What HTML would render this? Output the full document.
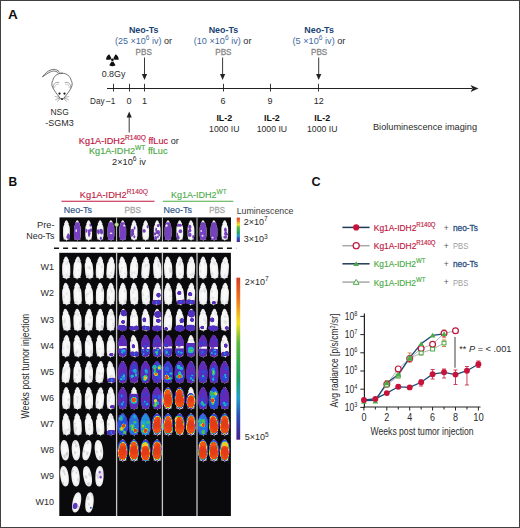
<!DOCTYPE html>
<html><head><meta charset="utf-8"><style>
html,body{margin:0;padding:0;background:#fff;overflow:hidden;width:520px;height:528px;}
svg{display:block;font-family:"Liberation Sans", sans-serif;}
</style></head><body>
<svg width="520" height="528" viewBox="0 0 520 528">
<rect width="520" height="528" fill="#fff"/>
<text x="7.9" y="18.6" font-size="13.5" fill="#111" font-weight="bold" text-anchor="start" >A</text>
<g fill="none" stroke="#3a3a3a" stroke-width="0.7" stroke-linecap="round" stroke-linejoin="round">
<path d="M60.6,73.6 C58.8,70.2 55.4,68.6 51.2,69.8 C47.6,70.9 45,73.6 42.4,76.9 C45.6,74.7 48.2,72.7 51.4,71.5 C54.6,70.4 57.6,71.3 59.3,74.2"/>
<path d="M62,73.2 C67,73.2 70.5,76.5 71.2,80.5 C72.4,82 72.6,85.5 71.2,87.5 C70,90.5 67.5,93.5 65.5,96 C64.5,97.5 63.5,99.5 62,99.8 C60.5,99.5 59.5,97.5 58.5,96 C56.5,93.5 54,90.5 52.8,87.5 C51.4,85.5 51.6,82 52.8,80.5 C53.5,76.5 57,73.2 62,73.2 Z" fill="#fff"/>
<path d="M53.2,88.2 C52.6,84.6 55.2,81.4 58.8,82.6" stroke="#777"/>
<path d="M54.6,87.6 C54.7,85.4 56.3,83.9 58.3,84.3" stroke="#aaa" stroke-width="0.6"/>
<path d="M70.8,88.2 C71.4,84.6 68.8,81.4 65.2,82.6" stroke="#777"/>
<path d="M69.4,87.6 C69.3,85.4 67.7,83.9 65.7,84.3" stroke="#aaa" stroke-width="0.6"/>
<path d="M59.6,97.4 L55.2,96.6 M59.8,98 L55.6,99.6 M60.2,98.6 L57.2,101.4 M64.4,97.4 L68.8,96.6 M64.2,98 L68.4,99.6 M63.8,98.6 L66.8,101.4" stroke="#555" stroke-width="0.45"/>
</g>
<circle cx="59.5" cy="93.6" r="1.1" fill="#111"/><circle cx="64.5" cy="93.6" r="1.1" fill="#111"/>
<path d="M60.6,98.2 L63.4,98.2 L62.9,99.6 L61.1,99.6 Z" fill="#222"/>
<text x="50.5" y="115.2" font-size="9" fill="#2a2a2a" font-weight="normal" text-anchor="start" textLength="18.3" lengthAdjust="spacingAndGlyphs" >NSG</text>
<text x="45.2" y="125.6" font-size="9" fill="#2a2a2a" font-weight="normal" text-anchor="start" textLength="28.5" lengthAdjust="spacingAndGlyphs" >-SGM3</text>
<circle cx="112.4" cy="59.8" r="1.4" fill="#111"/><path d="M110.50,59.80 L106.10,59.80 A6.3,6.3 0 0 1 109.25,54.34 L111.45,58.15 A1.9,1.9 0 0 0 110.50,59.80 Z" fill="#111"/><path d="M113.35,58.15 L115.55,54.34 A6.3,6.3 0 0 1 118.70,59.80 L114.30,59.80 A1.9,1.9 0 0 0 113.35,58.15 Z" fill="#111"/><path d="M113.35,61.45 L115.55,65.26 A6.3,6.3 0 0 1 109.25,65.26 L111.45,61.45 A1.9,1.9 0 0 0 113.35,61.45 Z" fill="#111"/>
<text x="101.7" y="76.5" font-size="9" fill="#2a2a2a" font-weight="normal" text-anchor="start" textLength="23.7" lengthAdjust="spacingAndGlyphs" >0.8Gy</text>
<line x1="107" y1="88.5" x2="472" y2="88.5" stroke="#222" stroke-width="1.2"/>
<path d="M478.5,88.5 L470.5,85 L472.5,88.5 L470.5,92 Z" fill="#222"/>
<line x1="113.5" y1="83.8" x2="113.5" y2="91.5" stroke="#222" stroke-width="0.9"/>
<line x1="129.5" y1="83.8" x2="129.5" y2="91.5" stroke="#222" stroke-width="0.9"/>
<line x1="144.5" y1="83.8" x2="144.5" y2="91.5" stroke="#222" stroke-width="0.9"/>
<line x1="223.5" y1="83.8" x2="223.5" y2="91.5" stroke="#222" stroke-width="0.9"/>
<line x1="270.5" y1="83.8" x2="270.5" y2="91.5" stroke="#222" stroke-width="0.9"/>
<line x1="318.5" y1="83.8" x2="318.5" y2="91.5" stroke="#222" stroke-width="0.9"/>
<text x="90.0" y="103.8" font-size="9" fill="#2a2a2a" font-weight="normal" text-anchor="start" textLength="25.2" lengthAdjust="spacingAndGlyphs" >Day –1</text>
<text x="129" y="103.8" font-size="9" fill="#2a2a2a" font-weight="normal" text-anchor="middle" >0</text>
<text x="144.6" y="103.8" font-size="9" fill="#2a2a2a" font-weight="normal" text-anchor="middle" >1</text>
<text x="223" y="103.8" font-size="9" fill="#2a2a2a" font-weight="normal" text-anchor="middle" >6</text>
<text x="270" y="103.8" font-size="9" fill="#2a2a2a" font-weight="normal" text-anchor="middle" >9</text>
<text x="318.8" y="103.8" font-size="9" fill="#2a2a2a" font-weight="normal" text-anchor="middle" >12</text>
<text x="224.3" y="120.5" font-size="8.8" fill="#111" font-weight="bold" text-anchor="middle" textLength="15.8" lengthAdjust="spacingAndGlyphs" >IL-2</text>
<text x="224.3" y="131.7" font-size="9.2" fill="#2a2a2a" font-weight="normal" text-anchor="middle" textLength="30.4" lengthAdjust="spacingAndGlyphs" >1000 IU</text>
<text x="271.9" y="120.5" font-size="8.8" fill="#111" font-weight="bold" text-anchor="middle" textLength="15.8" lengthAdjust="spacingAndGlyphs" >IL-2</text>
<text x="271.9" y="131.7" font-size="9.2" fill="#2a2a2a" font-weight="normal" text-anchor="middle" textLength="30.4" lengthAdjust="spacingAndGlyphs" >1000 IU</text>
<text x="322.2" y="120.5" font-size="8.8" fill="#111" font-weight="bold" text-anchor="middle" textLength="15.8" lengthAdjust="spacingAndGlyphs" >IL-2</text>
<text x="322.2" y="131.7" font-size="9.2" fill="#2a2a2a" font-weight="normal" text-anchor="middle" textLength="30.4" lengthAdjust="spacingAndGlyphs" >1000 IU</text>
<text x="373" y="129.5" font-size="9" fill="#2a2a2a" font-weight="normal" text-anchor="start" textLength="104" lengthAdjust="spacingAndGlyphs" >Bioluminescence imaging</text>
<text x="143.7" y="32.8" font-size="8.4" fill="#174273" font-weight="bold" text-anchor="middle" textLength="29.5" lengthAdjust="spacingAndGlyphs" >Neo-Ts</text>
<text x="115" y="43.8" font-size="9" fill="#3f6aa0" textLength="57" lengthAdjust="spacingAndGlyphs">(25 ×10<tspan dy="-3.6" font-size="6.6">6</tspan><tspan dy="3.6"> iv)</tspan><tspan fill="#2a2a2a"> or</tspan></text>
<text x="143.7" y="54.6" font-size="9" fill="#858585" font-weight="normal" text-anchor="middle" textLength="16.2" lengthAdjust="spacingAndGlyphs" stroke="#858585" stroke-width="0.3">PBS</text>
<line x1="144.5" y1="57.5" x2="144.5" y2="75" stroke="#222" stroke-width="0.9"/>
<path d="M141.9,74 L147.1,74 L144.5,80 Z" fill="#222"/>
<text x="223.4" y="32.8" font-size="8.4" fill="#174273" font-weight="bold" text-anchor="middle" textLength="29.5" lengthAdjust="spacingAndGlyphs" >Neo-Ts</text>
<text x="193.7" y="43.8" font-size="9" fill="#3f6aa0" textLength="57.8" lengthAdjust="spacingAndGlyphs">(10 ×10<tspan dy="-3.6" font-size="6.6">6</tspan><tspan dy="3.6"> iv)</tspan><tspan fill="#2a2a2a"> or</tspan></text>
<text x="223.4" y="54.6" font-size="9" fill="#858585" font-weight="normal" text-anchor="middle" textLength="16.2" lengthAdjust="spacingAndGlyphs" stroke="#858585" stroke-width="0.3">PBS</text>
<line x1="222.6" y1="57.5" x2="222.6" y2="75" stroke="#222" stroke-width="0.9"/>
<path d="M220.0,74 L225.2,74 L222.6,80 Z" fill="#222"/>
<text x="319.1" y="32.8" font-size="8.4" fill="#174273" font-weight="bold" text-anchor="middle" textLength="29.5" lengthAdjust="spacingAndGlyphs" >Neo-Ts</text>
<text x="292.5" y="43.8" font-size="9" fill="#3f6aa0" textLength="52.9" lengthAdjust="spacingAndGlyphs">(5 ×10<tspan dy="-3.6" font-size="6.6">6</tspan><tspan dy="3.6"> iv)</tspan><tspan fill="#2a2a2a"> or</tspan></text>
<text x="319.1" y="54.6" font-size="9" fill="#858585" font-weight="normal" text-anchor="middle" textLength="16.2" lengthAdjust="spacingAndGlyphs" stroke="#858585" stroke-width="0.3">PBS</text>
<line x1="318.7" y1="57.5" x2="318.7" y2="75" stroke="#222" stroke-width="0.9"/>
<path d="M316.09999999999997,74 L321.3,74 L318.7,80 Z" fill="#222"/>
<line x1="129.2" y1="116" x2="129.2" y2="132.5" stroke="#222" stroke-width="0.9"/>
<path d="M126.6,117.5 L131.8,117.5 L129.2,111.5 Z" fill="#222"/>
<text x="78.8" y="143.8" font-size="9" fill="#c0163e" stroke="#c0163e" stroke-width="0.15" textLength="100" lengthAdjust="spacingAndGlyphs">Kg1A-IDH2<tspan dy="-3.8" font-size="6.5">R140Q</tspan><tspan dy="3.8"> ffLuc</tspan><tspan fill="#2a2a2a" stroke="none"> or</tspan></text>
<text x="89" y="153.8" font-size="9" fill="#4aab46" stroke="#4aab46" stroke-width="0.15" textLength="78.5" lengthAdjust="spacingAndGlyphs">Kg1A-IDH2<tspan dy="-3.8" font-size="6.5">WT</tspan><tspan dy="3.8"> ffLuc</tspan></text>
<text x="112" y="165" font-size="9" fill="#2a2a2a" textLength="33.8" lengthAdjust="spacingAndGlyphs">2×10<tspan dy="-3.8" font-size="6.6">6</tspan><tspan dy="3.8"> iv</tspan></text>
<text x="8.5" y="185.7" font-size="12" fill="#111" font-weight="bold" text-anchor="start" >B</text>
<line x1="61.5" y1="201.3" x2="154.5" y2="201.3" stroke="#c0163e" stroke-width="1.1"/>
<line x1="162.8" y1="201.3" x2="233.3" y2="201.3" stroke="#4aab46" stroke-width="1.1"/>
<text x="79.8" y="197.6" font-size="9" fill="#c0163e" stroke="#c0163e" stroke-width="0.1" textLength="68.2" lengthAdjust="spacingAndGlyphs">Kg1A-IDH2<tspan dy="-3.8" font-size="6.5">R140Q</tspan></text>
<text x="171" y="197.6" font-size="9" fill="#4aab46" stroke="#4aab46" stroke-width="0.1" textLength="55.7" lengthAdjust="spacingAndGlyphs">Kg1A-IDH2<tspan dy="-3.8" font-size="6.5">WT</tspan></text>
<text x="63.8" y="212.5" font-size="9" fill="#2b5288" font-weight="normal" text-anchor="start" textLength="28.2" lengthAdjust="spacingAndGlyphs" stroke="#2b5288" stroke-width="0.15">Neo-Ts</text>
<text x="124.4" y="212.5" font-size="9" fill="#a6a6a6" font-weight="normal" text-anchor="start" textLength="16.5" lengthAdjust="spacingAndGlyphs" stroke="#a6a6a6" stroke-width="0.3">PBS</text>
<text x="163.5" y="212.5" font-size="9" fill="#2b5288" font-weight="normal" text-anchor="start" textLength="28.5" lengthAdjust="spacingAndGlyphs" stroke="#2b5288" stroke-width="0.15">Neo-Ts</text>
<text x="209.2" y="212.5" font-size="9" fill="#a6a6a6" font-weight="normal" text-anchor="start" textLength="15.7" lengthAdjust="spacingAndGlyphs" stroke="#a6a6a6" stroke-width="0.3">PBS</text>
<text x="54.5" y="228.3" font-size="9" fill="#2a2a2a" font-weight="normal" text-anchor="end" textLength="17.5" lengthAdjust="spacingAndGlyphs" >Pre-</text>
<text x="54.5" y="238.8" font-size="9" fill="#2a2a2a" font-weight="normal" text-anchor="end" textLength="28.2" lengthAdjust="spacingAndGlyphs" >Neo-Ts</text>
<text x="236.7" y="213.7" font-size="8.6" fill="#3a3a3a" font-weight="normal" text-anchor="start" textLength="56.8" lengthAdjust="spacingAndGlyphs" >Luminescence</text>
<text x="243.8" y="224.7" font-size="9" fill="#2a2a2a">2×10<tspan dy="-3.8" font-size="6.6">7</tspan></text>
<text x="243.8" y="242.4" font-size="9" fill="#2a2a2a">3×10<tspan dy="-3.8" font-size="6.6">3</tspan></text>
<text x="244.7" y="284.9" font-size="9" fill="#2a2a2a">2×10<tspan dy="-3.8" font-size="6.6">7</tspan></text>
<text x="244.7" y="440.3" font-size="9" fill="#2a2a2a">5×10<tspan dy="-3.8" font-size="6.6">5</tspan></text>
<line x1="54" y1="248.3" x2="236.2" y2="248.3" stroke="#111" stroke-width="1.5" stroke-dasharray="5,4.1"/>
<defs><linearGradient id="cbg" x1="0" y1="0" x2="0" y2="1"><stop offset="0" stop-color="#d63a22"/><stop offset="0.14" stop-color="#ee7a20"/><stop offset="0.28" stop-color="#f4e020"/><stop offset="0.4" stop-color="#5cb840"/><stop offset="0.62" stop-color="#1ea060"/><stop offset="0.74" stop-color="#22a0c8"/><stop offset="0.85" stop-color="#2a50b8"/><stop offset="1" stop-color="#48208a"/></linearGradient></defs>
<rect x="236.7" y="217.6" width="3.2" height="24.4" fill="url(#cbg)"/>
<rect x="236.4" y="277.7" width="3.8" height="162" fill="url(#cbg)"/>
<text x="54" y="270.3" font-size="9" fill="#2a2a2a" font-weight="normal" text-anchor="end" >W1</text>
<text x="54" y="296.40000000000003" font-size="9" fill="#2a2a2a" font-weight="normal" text-anchor="end" >W2</text>
<text x="54" y="322.5" font-size="9" fill="#2a2a2a" font-weight="normal" text-anchor="end" >W3</text>
<text x="54" y="348.6" font-size="9" fill="#2a2a2a" font-weight="normal" text-anchor="end" >W4</text>
<text x="54" y="374.7" font-size="9" fill="#2a2a2a" font-weight="normal" text-anchor="end" >W5</text>
<text x="54" y="400.8" font-size="9" fill="#2a2a2a" font-weight="normal" text-anchor="end" >W6</text>
<text x="54" y="426.90000000000003" font-size="9" fill="#2a2a2a" font-weight="normal" text-anchor="end" >W7</text>
<text x="54" y="453.00000000000006" font-size="9" fill="#2a2a2a" font-weight="normal" text-anchor="end" >W8</text>
<text x="54" y="479.1" font-size="9" fill="#2a2a2a" font-weight="normal" text-anchor="end" >W9</text>
<text x="54" y="505.2" font-size="9" fill="#2a2a2a" font-weight="normal" text-anchor="end" >W10</text>
<text transform="translate(29.4,366.2) rotate(-90)" font-size="10.5" fill="#2a2a2a" text-anchor="middle" textLength="104.7" lengthAdjust="spacingAndGlyphs">Weeks post tumor injection</text>
<rect x="59.5" y="217.4" width="171.5" height="24.2" fill="#0a0a0c"/>
<rect x="59.3" y="252.8" width="171.6" height="263.2" fill="#0a0a0c"/>
<defs>
<radialGradient id="mg" cx="0.5" cy="0.5" r="0.6"><stop offset="0" stop-color="#fdfdfd"/><stop offset="0.65" stop-color="#f3f3f3"/><stop offset="0.9" stop-color="#dedede"/><stop offset="1" stop-color="#b0b0b0"/></radialGradient>
<clipPath id="mc"><path d="M3.9,0.3 C4.9,0.4 5.6,1.4 5.9,2.8 L6.7,3.8 L6.5,5.4 C7.4,6.4 7.9,8 7.95,10 L8,16.5 C8,18.5 7.6,19.8 7.2,20.6 L8,21.5 L6.4,21.6 C5.8,22 5.1,22.1 4.5,22.1 L4.2,23.6 L3.5,22.1 C2.9,22.1 2.2,22 1.6,21.6 L0,21.5 L0.8,20.6 C0.4,19.8 0,18.5 0,16.5 L0.05,10 C0.1,8 0.5,6.4 1.4,5.4 L1.2,3.8 L2,2.8 C2.2,1.4 2.9,0.4 3.9,0.3 Z"/></clipPath>
<clipPath id="hc"><path d="M4.5,0 C5.8,1 7.4,3 8.2,5.5 C8.9,8 9,11 9,13.5 C9,17.5 8.5,20 6.8,21.6 C5.8,22.4 3.2,22.4 2.2,21.6 C0.5,20 0,17.5 0,13.5 C0,11 0.1,8 0.8,5.5 C1.6,3 3.2,1 4.5,0 Z"/></clipPath>
<clipPath id="hc2"><path d="M4.5,0.6 C7.4,0.6 9,5 9,11 C9,17.5 7.6,21.6 4.5,21.6 C1.4,21.6 0,17.5 0,11 C0,5 1.6,0.6 4.5,0.6 Z"/></clipPath>
<path id="mb" d="M3.9,0.3 C4.9,0.4 5.6,1.4 5.9,2.8 L6.7,3.8 L6.5,5.4 C7.4,6.4 7.9,8 7.95,10 L8,16.5 C8,18.5 7.6,19.8 7.2,20.6 L8,21.5 L6.4,21.6 C5.8,22 5.1,22.1 4.5,22.1 L4.2,23.6 L3.5,22.1 C2.9,22.1 2.2,22 1.6,21.6 L0,21.5 L0.8,20.6 C0.4,19.8 0,18.5 0,16.5 L0.05,10 C0.1,8 0.5,6.4 1.4,5.4 L1.2,3.8 L2,2.8 C2.2,1.4 2.9,0.4 3.9,0.3 Z"/>
<filter id="heat" color-interpolation-filters="sRGB" filterUnits="userSpaceOnUse" x="55" y="210" width="180" height="310">
  <feGaussianBlur in="SourceAlpha" stdDeviation="0.75" result="b"/>
  <feColorMatrix in="b" type="matrix" values="0 0 0 1 0  0 0 0 1 0  0 0 0 1 0  0 0 0 1 0" result="g"/>
  <feComponentTransfer in="g">
    <feFuncR type="table" tableValues="0.44 0.44 0.41 0.34 0.24 0.17 0.16 0.13 0.13 0.16 0.19 0.38 0.63 0.91 0.96 0.96 0.96 0.94 0.93 0.91 0.88"/>
    <feFuncG type="table" tableValues="0.20 0.20 0.17 0.18 0.22 0.30 0.47 0.63 0.72 0.72 0.72 0.75 0.82 0.88 0.75 0.63 0.48 0.35 0.29 0.25 0.23"/>
    <feFuncB type="table" tableValues="0.70 0.70 0.68 0.74 0.80 0.85 0.86 0.85 0.75 0.56 0.38 0.25 0.19 0.19 0.13 0.13 0.11 0.09 0.09 0.09 0.09"/>
    <feFuncA type="table" tableValues="0 0.35 1 1 1 1 1 1 1 1 1 1 1 1 1 1 1 1 1 1 1"/>
  </feComponentTransfer>
</filter>
<filter id="soft" x="-5%" y="-5%" width="110%" height="110%"><feGaussianBlur stdDeviation="0.35"/></filter>
</defs>
<g filter="url(#soft)">
<g transform="translate(62.09,256.30) scale(1.03,1.0) rotate(-0.5,3.8,11.5)"><use href="#mb" fill="url(#mg)"/><g clip-path="url(#mc)"><ellipse cx="4.4" cy="18.8" rx="1.2" ry="1.6" fill="#c0c0c0" opacity="0.3"/><ellipse cx="4.5" cy="7.0" rx="1.2" ry="1.8" fill="#c0c0c0" opacity="0.3"/><ellipse cx="5.8" cy="5.5" rx="1.0" ry="1.1" fill="#c0c0c0" opacity="0.3"/></g></g>
<g transform="translate(73.39,256.30) scale(1.03,1.0) rotate(3.1,3.8,11.5)"><use href="#mb" fill="url(#mg)"/><g clip-path="url(#mc)"><ellipse cx="5.2" cy="4.7" rx="1.6" ry="2.2" fill="#c0c0c0" opacity="0.3"/><ellipse cx="4.9" cy="13.8" rx="0.9" ry="1.0" fill="#c0c0c0" opacity="0.3"/><ellipse cx="4.2" cy="5.0" rx="1.0" ry="1.3" fill="#c0c0c0" opacity="0.3"/></g></g>
<g transform="translate(84.79,256.30) scale(1.03,1.0) rotate(-4.7,3.8,11.5)"><use href="#mb" fill="url(#mg)"/><g clip-path="url(#mc)"><ellipse cx="3.8" cy="11.0" rx="1.5" ry="1.6" fill="#c0c0c0" opacity="0.3"/><ellipse cx="4.8" cy="12.0" rx="1.3" ry="1.5" fill="#c0c0c0" opacity="0.3"/><ellipse cx="2.7" cy="20.0" rx="1.6" ry="2.0" fill="#c0c0c0" opacity="0.3"/></g></g>
<g transform="translate(95.89,256.30) scale(1.03,1.0) rotate(2.1,3.8,11.5)"><use href="#mb" fill="url(#mg)"/><g clip-path="url(#mc)"><ellipse cx="2.9" cy="7.7" rx="1.0" ry="1.1" fill="#c0c0c0" opacity="0.3"/><ellipse cx="5.6" cy="10.4" rx="1.5" ry="1.5" fill="#c0c0c0" opacity="0.3"/><ellipse cx="6.7" cy="17.6" rx="0.8" ry="1.3" fill="#c0c0c0" opacity="0.3"/></g></g>
<g transform="translate(106.69,256.30) scale(1.03,1.0) rotate(4.1,3.8,11.5)"><use href="#mb" fill="url(#mg)"/><g clip-path="url(#mc)"><ellipse cx="3.8" cy="19.7" rx="1.1" ry="1.1" fill="#c0c0c0" opacity="0.3"/><ellipse cx="4.8" cy="16.5" rx="1.0" ry="1.1" fill="#c0c0c0" opacity="0.3"/><ellipse cx="3.0" cy="19.4" rx="1.4" ry="1.1" fill="#c0c0c0" opacity="0.3"/></g></g>
<g transform="translate(62.09,282.40) scale(1.03,1.0) rotate(-2.5,3.8,11.5)"><use href="#mb" fill="url(#mg)"/><g clip-path="url(#mc)"><ellipse cx="1.6" cy="5.0" rx="1.4" ry="1.2" fill="#c0c0c0" opacity="0.3"/><ellipse cx="4.4" cy="11.2" rx="1.0" ry="1.9" fill="#c0c0c0" opacity="0.3"/><ellipse cx="1.8" cy="14.3" rx="0.9" ry="1.5" fill="#c0c0c0" opacity="0.3"/></g></g>
<g transform="translate(73.39,282.40) scale(1.03,1.0) rotate(-2.9,3.8,11.5)"><use href="#mb" fill="url(#mg)"/><g clip-path="url(#mc)"><ellipse cx="2.6" cy="19.5" rx="1.4" ry="1.4" fill="#c0c0c0" opacity="0.3"/><ellipse cx="6.3" cy="7.4" rx="1.1" ry="2.0" fill="#c0c0c0" opacity="0.3"/><ellipse cx="4.9" cy="5.6" rx="1.6" ry="1.3" fill="#c0c0c0" opacity="0.3"/></g></g>
<g transform="translate(84.79,282.40) scale(1.03,1.0) rotate(-2.4,3.8,11.5)"><use href="#mb" fill="url(#mg)"/><g clip-path="url(#mc)"><ellipse cx="5.6" cy="9.3" rx="1.0" ry="1.1" fill="#c0c0c0" opacity="0.3"/><ellipse cx="1.5" cy="13.3" rx="1.0" ry="1.7" fill="#c0c0c0" opacity="0.3"/><ellipse cx="3.2" cy="11.3" rx="1.6" ry="1.6" fill="#c0c0c0" opacity="0.3"/></g></g>
<g transform="translate(95.89,282.40) scale(1.03,1.0) rotate(0.7,3.8,11.5)"><use href="#mb" fill="url(#mg)"/><g clip-path="url(#mc)"><ellipse cx="6.2" cy="6.9" rx="0.9" ry="2.1" fill="#c0c0c0" opacity="0.3"/><ellipse cx="5.9" cy="8.0" rx="1.0" ry="1.9" fill="#c0c0c0" opacity="0.3"/><ellipse cx="6.6" cy="7.1" rx="1.6" ry="2.1" fill="#c0c0c0" opacity="0.3"/></g></g>
<g transform="translate(106.69,282.40) scale(1.03,1.0) rotate(1.0,3.8,11.5)"><use href="#mb" fill="url(#mg)"/><g clip-path="url(#mc)"><ellipse cx="3.5" cy="5.7" rx="0.8" ry="2.2" fill="#c0c0c0" opacity="0.3"/><ellipse cx="2.4" cy="15.3" rx="1.0" ry="2.0" fill="#c0c0c0" opacity="0.3"/><ellipse cx="4.6" cy="8.7" rx="0.9" ry="1.9" fill="#c0c0c0" opacity="0.3"/></g></g>
<g transform="translate(62.09,308.50) scale(1.03,1.0) rotate(-4.3,3.8,11.5)"><use href="#mb" fill="url(#mg)"/><g clip-path="url(#mc)"><ellipse cx="2.4" cy="12.9" rx="1.5" ry="1.7" fill="#c0c0c0" opacity="0.3"/><ellipse cx="2.7" cy="18.7" rx="1.0" ry="1.0" fill="#c0c0c0" opacity="0.3"/><ellipse cx="2.6" cy="11.1" rx="0.8" ry="1.2" fill="#c0c0c0" opacity="0.3"/></g></g>
<g transform="translate(73.39,308.50) scale(1.03,1.0) rotate(-1.3,3.8,11.5)"><use href="#mb" fill="url(#mg)"/><g clip-path="url(#mc)"><ellipse cx="4.4" cy="6.1" rx="1.1" ry="2.1" fill="#c0c0c0" opacity="0.3"/><ellipse cx="6.9" cy="14.5" rx="1.4" ry="1.7" fill="#c0c0c0" opacity="0.3"/><ellipse cx="1.8" cy="4.6" rx="0.8" ry="2.1" fill="#c0c0c0" opacity="0.3"/></g></g>
<g transform="translate(84.79,308.50) scale(1.03,1.0) rotate(2.0,3.8,11.5)"><use href="#mb" fill="url(#mg)"/><g clip-path="url(#mc)"><ellipse cx="6.8" cy="4.3" rx="1.3" ry="1.6" fill="#c0c0c0" opacity="0.3"/><ellipse cx="5.4" cy="9.1" rx="1.6" ry="1.1" fill="#c0c0c0" opacity="0.3"/><ellipse cx="4.3" cy="15.8" rx="1.5" ry="1.9" fill="#c0c0c0" opacity="0.3"/></g></g>
<g transform="translate(95.89,308.50) scale(1.03,1.0) rotate(2.0,3.8,11.5)"><use href="#mb" fill="url(#mg)"/><g clip-path="url(#mc)"><ellipse cx="5.8" cy="18.6" rx="1.1" ry="1.8" fill="#c0c0c0" opacity="0.3"/><ellipse cx="6.4" cy="17.9" rx="1.1" ry="1.9" fill="#c0c0c0" opacity="0.3"/><ellipse cx="6.2" cy="13.2" rx="1.3" ry="1.5" fill="#c0c0c0" opacity="0.3"/></g></g>
<g transform="translate(106.69,308.50) scale(1.03,1.0) rotate(0.8,3.8,11.5)"><use href="#mb" fill="url(#mg)"/><g clip-path="url(#mc)"><ellipse cx="4.7" cy="5.3" rx="1.3" ry="2.2" fill="#c0c0c0" opacity="0.3"/><ellipse cx="6.3" cy="15.7" rx="1.1" ry="1.9" fill="#c0c0c0" opacity="0.3"/><ellipse cx="4.5" cy="11.0" rx="1.5" ry="1.1" fill="#c0c0c0" opacity="0.3"/></g></g>
<g transform="translate(62.09,334.60) scale(1.03,1.0) rotate(2.5,3.8,11.5)"><use href="#mb" fill="url(#mg)"/><g clip-path="url(#mc)"><ellipse cx="1.2" cy="13.6" rx="1.2" ry="1.3" fill="#c0c0c0" opacity="0.3"/><ellipse cx="5.2" cy="12.0" rx="1.3" ry="2.1" fill="#c0c0c0" opacity="0.3"/><ellipse cx="2.5" cy="4.2" rx="1.0" ry="1.8" fill="#c0c0c0" opacity="0.3"/></g></g>
<g transform="translate(73.39,334.60) scale(1.03,1.0) rotate(-3.0,3.8,11.5)"><use href="#mb" fill="url(#mg)"/><g clip-path="url(#mc)"><ellipse cx="2.0" cy="18.5" rx="1.3" ry="1.5" fill="#c0c0c0" opacity="0.3"/><ellipse cx="6.4" cy="9.2" rx="1.3" ry="1.2" fill="#c0c0c0" opacity="0.3"/><ellipse cx="3.6" cy="16.9" rx="1.5" ry="2.1" fill="#c0c0c0" opacity="0.3"/></g></g>
<g transform="translate(84.79,334.60) scale(1.03,1.0) rotate(-1.2,3.8,11.5)"><use href="#mb" fill="url(#mg)"/><g clip-path="url(#mc)"><ellipse cx="4.5" cy="9.1" rx="0.9" ry="1.6" fill="#c0c0c0" opacity="0.3"/><ellipse cx="6.0" cy="17.6" rx="1.4" ry="2.1" fill="#c0c0c0" opacity="0.3"/><ellipse cx="2.7" cy="6.7" rx="1.2" ry="1.3" fill="#c0c0c0" opacity="0.3"/></g></g>
<g transform="translate(95.89,334.60) scale(1.03,1.0) rotate(-2.9,3.8,11.5)"><use href="#mb" fill="url(#mg)"/><g clip-path="url(#mc)"><ellipse cx="3.5" cy="14.0" rx="1.2" ry="1.4" fill="#c0c0c0" opacity="0.3"/><ellipse cx="6.0" cy="19.7" rx="1.2" ry="1.1" fill="#c0c0c0" opacity="0.3"/><ellipse cx="1.2" cy="18.0" rx="0.8" ry="1.9" fill="#c0c0c0" opacity="0.3"/></g></g>
<g transform="translate(106.69,334.60) scale(1.03,1.0) rotate(0.7,3.8,11.5)"><use href="#mb" fill="url(#mg)"/><g clip-path="url(#mc)"><ellipse cx="2.9" cy="16.7" rx="0.8" ry="1.2" fill="#c0c0c0" opacity="0.3"/><ellipse cx="3.7" cy="4.4" rx="1.5" ry="1.3" fill="#c0c0c0" opacity="0.3"/><ellipse cx="1.8" cy="4.8" rx="1.3" ry="1.5" fill="#c0c0c0" opacity="0.3"/></g></g>
<g transform="translate(62.09,360.70) scale(1.03,1.0) rotate(4.6,3.8,11.5)"><use href="#mb" fill="url(#mg)"/><g clip-path="url(#mc)"><ellipse cx="5.1" cy="7.2" rx="1.2" ry="1.2" fill="#c0c0c0" opacity="0.3"/><ellipse cx="1.1" cy="11.6" rx="1.4" ry="1.2" fill="#c0c0c0" opacity="0.3"/><ellipse cx="2.6" cy="9.5" rx="1.4" ry="1.6" fill="#c0c0c0" opacity="0.3"/></g></g>
<g transform="translate(73.39,360.70) scale(1.03,1.0) rotate(1.1,3.8,11.5)"><use href="#mb" fill="url(#mg)"/><g clip-path="url(#mc)"><ellipse cx="5.5" cy="10.3" rx="1.4" ry="2.1" fill="#c0c0c0" opacity="0.3"/><ellipse cx="1.5" cy="18.9" rx="1.4" ry="1.2" fill="#c0c0c0" opacity="0.3"/><ellipse cx="3.7" cy="14.0" rx="1.5" ry="1.5" fill="#c0c0c0" opacity="0.3"/></g></g>
<g transform="translate(84.79,360.70) scale(1.03,1.0) rotate(0.7,3.8,11.5)"><use href="#mb" fill="url(#mg)"/><g clip-path="url(#mc)"><ellipse cx="6.3" cy="16.7" rx="1.6" ry="1.6" fill="#c0c0c0" opacity="0.3"/><ellipse cx="4.9" cy="7.3" rx="1.4" ry="2.0" fill="#c0c0c0" opacity="0.3"/><ellipse cx="4.8" cy="15.5" rx="1.0" ry="2.1" fill="#c0c0c0" opacity="0.3"/></g></g>
<g transform="translate(95.89,360.70) scale(1.03,1.0) rotate(4.8,3.8,11.5)"><use href="#mb" fill="url(#mg)"/><g clip-path="url(#mc)"><ellipse cx="6.9" cy="12.6" rx="1.4" ry="1.4" fill="#c0c0c0" opacity="0.3"/><ellipse cx="6.5" cy="17.7" rx="1.1" ry="1.1" fill="#c0c0c0" opacity="0.3"/><ellipse cx="3.6" cy="12.8" rx="1.4" ry="1.6" fill="#c0c0c0" opacity="0.3"/></g></g>
<g transform="translate(106.69,360.70) scale(1.03,1.0) rotate(-4.7,3.8,11.5)"><use href="#mb" fill="url(#mg)"/><g clip-path="url(#mc)"><ellipse cx="5.9" cy="5.0" rx="1.4" ry="1.2" fill="#c0c0c0" opacity="0.3"/><ellipse cx="3.0" cy="16.6" rx="0.9" ry="1.2" fill="#c0c0c0" opacity="0.3"/><ellipse cx="4.1" cy="15.6" rx="1.5" ry="1.8" fill="#c0c0c0" opacity="0.3"/></g></g>
<g transform="translate(62.09,386.80) scale(1.03,1.0) rotate(0.2,3.8,11.5)"><use href="#mb" fill="url(#mg)"/><g clip-path="url(#mc)"><ellipse cx="6.1" cy="13.0" rx="1.0" ry="1.5" fill="#c0c0c0" opacity="0.3"/><ellipse cx="6.1" cy="18.4" rx="1.0" ry="2.0" fill="#c0c0c0" opacity="0.3"/><ellipse cx="6.8" cy="12.4" rx="1.3" ry="1.2" fill="#c0c0c0" opacity="0.3"/></g></g>
<g transform="translate(73.39,386.80) scale(1.03,1.0) rotate(0.4,3.8,11.5)"><use href="#mb" fill="url(#mg)"/><g clip-path="url(#mc)"><ellipse cx="4.0" cy="13.7" rx="0.8" ry="2.2" fill="#c0c0c0" opacity="0.3"/><ellipse cx="4.1" cy="10.4" rx="1.4" ry="1.7" fill="#c0c0c0" opacity="0.3"/><ellipse cx="3.9" cy="15.1" rx="0.9" ry="1.6" fill="#c0c0c0" opacity="0.3"/></g></g>
<g transform="translate(84.79,386.80) scale(1.03,1.0) rotate(-0.9,3.8,11.5)"><use href="#mb" fill="url(#mg)"/><g clip-path="url(#mc)"><ellipse cx="6.7" cy="18.8" rx="1.0" ry="1.6" fill="#c0c0c0" opacity="0.3"/><ellipse cx="1.8" cy="10.9" rx="1.5" ry="2.1" fill="#c0c0c0" opacity="0.3"/><ellipse cx="3.9" cy="9.1" rx="1.0" ry="1.7" fill="#c0c0c0" opacity="0.3"/></g></g>
<g transform="translate(95.89,386.80) scale(1.03,1.0) rotate(4.3,3.8,11.5)"><use href="#mb" fill="url(#mg)"/><g clip-path="url(#mc)"><ellipse cx="1.8" cy="16.5" rx="0.8" ry="1.2" fill="#c0c0c0" opacity="0.3"/><ellipse cx="2.4" cy="15.0" rx="1.1" ry="1.4" fill="#c0c0c0" opacity="0.3"/><ellipse cx="4.7" cy="5.7" rx="1.4" ry="1.1" fill="#c0c0c0" opacity="0.3"/></g></g>
<g transform="translate(106.69,386.80) scale(1.03,1.0) rotate(0.1,3.8,11.5)"><use href="#mb" fill="url(#mg)"/><g clip-path="url(#mc)"><ellipse cx="2.5" cy="7.2" rx="1.2" ry="1.5" fill="#c0c0c0" opacity="0.3"/><ellipse cx="3.3" cy="10.6" rx="1.2" ry="1.2" fill="#c0c0c0" opacity="0.3"/><ellipse cx="2.2" cy="14.1" rx="1.3" ry="1.6" fill="#c0c0c0" opacity="0.3"/></g></g>
<g transform="translate(62.09,412.90) scale(1.03,1.0) rotate(-2.7,3.8,11.5)"><use href="#mb" fill="url(#mg)"/><g clip-path="url(#mc)"><ellipse cx="5.4" cy="17.0" rx="1.5" ry="1.4" fill="#c0c0c0" opacity="0.3"/><ellipse cx="2.9" cy="18.8" rx="1.0" ry="2.2" fill="#c0c0c0" opacity="0.3"/><ellipse cx="6.3" cy="6.1" rx="1.0" ry="1.9" fill="#c0c0c0" opacity="0.3"/></g></g>
<g transform="translate(73.39,412.90) scale(1.03,1.0) rotate(-2.4,3.8,11.5)"><use href="#mb" fill="url(#mg)"/><g clip-path="url(#mc)"><ellipse cx="1.6" cy="17.3" rx="1.1" ry="1.9" fill="#c0c0c0" opacity="0.3"/><ellipse cx="1.8" cy="10.4" rx="1.3" ry="1.0" fill="#c0c0c0" opacity="0.3"/><ellipse cx="2.2" cy="14.9" rx="1.5" ry="2.2" fill="#c0c0c0" opacity="0.3"/></g></g>
<g transform="translate(84.79,412.90) scale(1.03,1.0) rotate(-3.8,3.8,11.5)"><use href="#mb" fill="url(#mg)"/><g clip-path="url(#mc)"><ellipse cx="4.0" cy="16.1" rx="1.2" ry="1.8" fill="#c0c0c0" opacity="0.3"/><ellipse cx="2.1" cy="5.1" rx="0.9" ry="1.0" fill="#c0c0c0" opacity="0.3"/><ellipse cx="4.3" cy="12.2" rx="1.3" ry="1.2" fill="#c0c0c0" opacity="0.3"/></g></g>
<g transform="translate(95.89,412.90) scale(1.03,1.0) rotate(-3.2,3.8,11.5)"><use href="#mb" fill="url(#mg)"/><g clip-path="url(#mc)"><ellipse cx="2.2" cy="17.4" rx="1.6" ry="2.1" fill="#c0c0c0" opacity="0.3"/><ellipse cx="1.6" cy="5.0" rx="1.6" ry="1.6" fill="#c0c0c0" opacity="0.3"/><ellipse cx="5.6" cy="9.2" rx="1.2" ry="1.6" fill="#c0c0c0" opacity="0.3"/></g></g>
<g transform="translate(106.69,412.90) scale(1.03,1.0) rotate(-0.7,3.8,11.5)"><use href="#mb" fill="url(#mg)"/><g clip-path="url(#mc)"><ellipse cx="4.6" cy="4.2" rx="1.4" ry="2.0" fill="#c0c0c0" opacity="0.3"/><ellipse cx="2.1" cy="11.3" rx="1.4" ry="1.5" fill="#c0c0c0" opacity="0.3"/><ellipse cx="2.2" cy="6.6" rx="1.2" ry="1.0" fill="#c0c0c0" opacity="0.3"/></g></g>
<g transform="translate(60.66,439.30) scale(0.92,0.98) rotate(-5.8,4.5,11)"><path d="M4.5,0.6 C7.4,0.6 9,5 9,11 C9,17.5 7.6,21.6 4.5,21.6 C1.4,21.6 0,17.5 0,11 C0,5 1.6,0.6 4.5,0.6 Z" fill="url(#mg)"/><g clip-path="url(#hc2)"><ellipse cx="7.0" cy="14.9" rx="1.4" ry="2.0" fill="#b0b0b0" opacity="0.4"/><ellipse cx="3.9" cy="17.3" rx="1.5" ry="1.8" fill="#b0b0b0" opacity="0.4"/><ellipse cx="6.1" cy="15.2" rx="1.1" ry="1.9" fill="#b0b0b0" opacity="0.4"/></g></g>
<g transform="translate(71.76,439.30) scale(0.92,0.98) rotate(-3.8,4.5,11)"><path d="M4.5,0.6 C7.4,0.6 9,5 9,11 C9,17.5 7.6,21.6 4.5,21.6 C1.4,21.6 0,17.5 0,11 C0,5 1.6,0.6 4.5,0.6 Z" fill="url(#mg)"/><g clip-path="url(#hc2)"><ellipse cx="4.3" cy="3.2" rx="1.1" ry="1.8" fill="#b0b0b0" opacity="0.4"/><ellipse cx="5.2" cy="6.7" rx="1.6" ry="1.8" fill="#b0b0b0" opacity="0.4"/><ellipse cx="3.5" cy="13.6" rx="1.3" ry="1.6" fill="#b0b0b0" opacity="0.4"/></g></g>
<g transform="translate(82.86,439.30) scale(0.92,0.98) rotate(12.0,4.5,11)"><path d="M4.5,0.6 C7.4,0.6 9,5 9,11 C9,17.5 7.6,21.6 4.5,21.6 C1.4,21.6 0,17.5 0,11 C0,5 1.6,0.6 4.5,0.6 Z" fill="url(#mg)"/><g clip-path="url(#hc2)"><ellipse cx="5.4" cy="14.2" rx="1.4" ry="2.2" fill="#b0b0b0" opacity="0.4"/><ellipse cx="1.6" cy="12.8" rx="1.4" ry="1.3" fill="#b0b0b0" opacity="0.4"/><ellipse cx="3.9" cy="3.8" rx="1.0" ry="1.5" fill="#b0b0b0" opacity="0.4"/></g></g>
<g transform="translate(94.76,439.30) scale(0.92,0.98) rotate(-6.0,4.5,11)"><path d="M4.5,0.6 C7.4,0.6 9,5 9,11 C9,17.5 7.6,21.6 4.5,21.6 C1.4,21.6 0,17.5 0,11 C0,5 1.6,0.6 4.5,0.6 Z" fill="url(#mg)"/><g clip-path="url(#hc2)"><ellipse cx="6.9" cy="11.8" rx="1.2" ry="2.2" fill="#b0b0b0" opacity="0.4"/><ellipse cx="4.9" cy="18.9" rx="1.3" ry="2.0" fill="#b0b0b0" opacity="0.4"/><ellipse cx="2.0" cy="12.6" rx="1.4" ry="1.1" fill="#b0b0b0" opacity="0.4"/></g></g>
<g transform="translate(60.36,465.40) scale(0.92,0.98) rotate(-8.2,4.5,11)"><path d="M4.5,0.6 C7.4,0.6 9,5 9,11 C9,17.5 7.6,21.6 4.5,21.6 C1.4,21.6 0,17.5 0,11 C0,5 1.6,0.6 4.5,0.6 Z" fill="url(#mg)"/><g clip-path="url(#hc2)"><ellipse cx="4.3" cy="5.7" rx="1.2" ry="1.7" fill="#b0b0b0" opacity="0.4"/><ellipse cx="1.9" cy="18.1" rx="1.1" ry="1.6" fill="#b0b0b0" opacity="0.4"/><ellipse cx="5.1" cy="8.8" rx="1.0" ry="1.8" fill="#b0b0b0" opacity="0.4"/></g></g>
<g transform="translate(71.36,465.40) scale(0.92,0.98) rotate(-5.2,4.5,11)"><path d="M4.5,0.6 C7.4,0.6 9,5 9,11 C9,17.5 7.6,21.6 4.5,21.6 C1.4,21.6 0,17.5 0,11 C0,5 1.6,0.6 4.5,0.6 Z" fill="url(#mg)"/><g clip-path="url(#hc2)"><ellipse cx="5.8" cy="7.7" rx="0.8" ry="1.3" fill="#b0b0b0" opacity="0.4"/><ellipse cx="1.8" cy="5.5" rx="1.4" ry="1.5" fill="#b0b0b0" opacity="0.4"/><ellipse cx="6.9" cy="15.0" rx="0.8" ry="2.2" fill="#b0b0b0" opacity="0.4"/></g></g>
<g transform="translate(83.36,465.40) scale(0.92,0.98) rotate(-10.2,4.5,11)"><path d="M4.5,0.6 C7.4,0.6 9,5 9,11 C9,17.5 7.6,21.6 4.5,21.6 C1.4,21.6 0,17.5 0,11 C0,5 1.6,0.6 4.5,0.6 Z" fill="url(#mg)"/><g clip-path="url(#hc2)"><ellipse cx="6.9" cy="9.9" rx="1.2" ry="2.2" fill="#b0b0b0" opacity="0.4"/><ellipse cx="3.0" cy="11.4" rx="1.5" ry="1.9" fill="#b0b0b0" opacity="0.4"/><ellipse cx="4.3" cy="18.7" rx="1.5" ry="1.7" fill="#b0b0b0" opacity="0.4"/></g></g>
<g transform="translate(95.36,465.40) scale(0.92,0.98) rotate(3.0,4.5,11)"><path d="M4.5,0.6 C7.4,0.6 9,5 9,11 C9,17.5 7.6,21.6 4.5,21.6 C1.4,21.6 0,17.5 0,11 C0,5 1.6,0.6 4.5,0.6 Z" fill="url(#mg)"/><g clip-path="url(#hc2)"><ellipse cx="4.2" cy="6.3" rx="0.8" ry="1.6" fill="#b0b0b0" opacity="0.4"/><ellipse cx="2.2" cy="10.1" rx="1.3" ry="1.5" fill="#b0b0b0" opacity="0.4"/><ellipse cx="3.1" cy="12.3" rx="1.1" ry="1.9" fill="#b0b0b0" opacity="0.4"/><ellipse cx="5.5" cy="8" rx="2.6" ry="3" fill="#e6dcf4"/><ellipse cx="5.8" cy="12" rx="1.4" ry="1.4" fill="#7a48c4"/><ellipse cx="4.5" cy="7" rx="1.2" ry="1.2" fill="#8a5ccc"/></g></g>
<g transform="translate(72.56,491.50) scale(0.92,0.98) rotate(11.9,4.5,11)"><path d="M4.5,0.6 C7.4,0.6 9,5 9,11 C9,17.5 7.6,21.6 4.5,21.6 C1.4,21.6 0,17.5 0,11 C0,5 1.6,0.6 4.5,0.6 Z" fill="url(#mg)"/><g clip-path="url(#hc2)"><ellipse cx="7.2" cy="14.7" rx="1.0" ry="1.1" fill="#b0b0b0" opacity="0.4"/><ellipse cx="6.9" cy="15.5" rx="1.3" ry="1.4" fill="#b0b0b0" opacity="0.4"/><ellipse cx="3.1" cy="14.0" rx="1.3" ry="1.7" fill="#b0b0b0" opacity="0.4"/><ellipse cx="3.6" cy="15" rx="2.6" ry="3.2" fill="#6a34b8"/><ellipse cx="3.4" cy="15.4" rx="1.3" ry="1.8" fill="#4a3cc8"/></g></g>
<g transform="translate(85.36,491.50) scale(0.92,0.98) rotate(6.1,4.5,11)"><path d="M4.5,0.6 C7.4,0.6 9,5 9,11 C9,17.5 7.6,21.6 4.5,21.6 C1.4,21.6 0,17.5 0,11 C0,5 1.6,0.6 4.5,0.6 Z" fill="url(#mg)"/><g clip-path="url(#hc2)"><ellipse cx="2.6" cy="7.0" rx="1.6" ry="2.1" fill="#b0b0b0" opacity="0.4"/><ellipse cx="6.8" cy="3.6" rx="0.8" ry="1.3" fill="#b0b0b0" opacity="0.4"/><ellipse cx="4.1" cy="13.0" rx="0.9" ry="1.6" fill="#b0b0b0" opacity="0.4"/><ellipse cx="6.5" cy="16.5" rx="1" ry="1" fill="#3a5cc8"/></g></g>
<g transform="translate(118.69,256.30) scale(1.03,1.0) rotate(-4.3,3.8,11.5)"><use href="#mb" fill="url(#mg)"/><g clip-path="url(#mc)"><ellipse cx="1.5" cy="14.8" rx="1.2" ry="1.8" fill="#c0c0c0" opacity="0.3"/><ellipse cx="3.2" cy="11.7" rx="1.0" ry="1.4" fill="#c0c0c0" opacity="0.3"/><ellipse cx="5.5" cy="17.4" rx="0.9" ry="1.1" fill="#c0c0c0" opacity="0.3"/></g></g>
<g transform="translate(129.99,256.30) scale(1.03,1.0) rotate(3.1,3.8,11.5)"><use href="#mb" fill="url(#mg)"/><g clip-path="url(#mc)"><ellipse cx="4.7" cy="16.3" rx="1.0" ry="1.5" fill="#c0c0c0" opacity="0.3"/><ellipse cx="2.5" cy="17.0" rx="1.1" ry="1.8" fill="#c0c0c0" opacity="0.3"/><ellipse cx="6.9" cy="9.2" rx="1.2" ry="1.9" fill="#c0c0c0" opacity="0.3"/></g></g>
<g transform="translate(141.59,256.30) scale(1.03,1.0) rotate(4.2,3.8,11.5)"><use href="#mb" fill="url(#mg)"/><g clip-path="url(#mc)"><ellipse cx="3.6" cy="9.9" rx="0.9" ry="2.1" fill="#c0c0c0" opacity="0.3"/><ellipse cx="1.5" cy="5.3" rx="1.3" ry="1.6" fill="#c0c0c0" opacity="0.3"/><ellipse cx="5.1" cy="8.8" rx="1.4" ry="1.1" fill="#c0c0c0" opacity="0.3"/></g></g>
<g transform="translate(153.09,256.30) scale(1.03,1.0) rotate(-2.9,3.8,11.5)"><use href="#mb" fill="url(#mg)"/><g clip-path="url(#mc)"><ellipse cx="5.0" cy="5.3" rx="1.0" ry="1.9" fill="#c0c0c0" opacity="0.3"/><ellipse cx="5.2" cy="8.5" rx="0.9" ry="1.4" fill="#c0c0c0" opacity="0.3"/><ellipse cx="5.4" cy="9.9" rx="0.9" ry="1.9" fill="#c0c0c0" opacity="0.3"/></g></g>
<g transform="translate(118.69,282.40) scale(1.03,1.0) rotate(0.7,3.8,11.5)"><use href="#mb" fill="url(#mg)"/><g clip-path="url(#mc)"><ellipse cx="6.5" cy="19.0" rx="1.5" ry="1.5" fill="#c0c0c0" opacity="0.3"/><ellipse cx="5.8" cy="8.9" rx="1.1" ry="1.5" fill="#c0c0c0" opacity="0.3"/><ellipse cx="6.6" cy="18.3" rx="1.0" ry="1.4" fill="#c0c0c0" opacity="0.3"/></g></g>
<g transform="translate(129.99,282.40) scale(1.03,1.0) rotate(-1.3,3.8,11.5)"><use href="#mb" fill="url(#mg)"/><g clip-path="url(#mc)"><ellipse cx="3.2" cy="10.3" rx="1.1" ry="1.2" fill="#c0c0c0" opacity="0.3"/><ellipse cx="4.4" cy="16.8" rx="1.2" ry="2.0" fill="#c0c0c0" opacity="0.3"/><ellipse cx="4.4" cy="6.8" rx="1.4" ry="2.1" fill="#c0c0c0" opacity="0.3"/></g></g>
<g transform="translate(141.59,282.40) scale(1.03,1.0) rotate(-2.2,3.8,11.5)"><use href="#mb" fill="url(#mg)"/><g clip-path="url(#mc)"><ellipse cx="1.1" cy="12.3" rx="1.2" ry="1.7" fill="#c0c0c0" opacity="0.3"/><ellipse cx="6.8" cy="14.4" rx="1.4" ry="1.1" fill="#c0c0c0" opacity="0.3"/><ellipse cx="4.3" cy="16.6" rx="0.9" ry="1.1" fill="#c0c0c0" opacity="0.3"/></g></g>
<g transform="translate(153.09,282.40) scale(1.03,1.0) rotate(2.4,3.8,11.5)"><use href="#mb" fill="url(#mg)"/><g clip-path="url(#mc)"><ellipse cx="6.4" cy="5.4" rx="1.3" ry="1.2" fill="#c0c0c0" opacity="0.3"/><ellipse cx="5.5" cy="14.4" rx="1.0" ry="1.3" fill="#c0c0c0" opacity="0.3"/><ellipse cx="5.6" cy="12.3" rx="1.4" ry="1.5" fill="#c0c0c0" opacity="0.3"/></g></g>
<g transform="translate(118.69,308.50) scale(1.03,1.0) rotate(3.3,3.8,11.5)"><use href="#mb" fill="url(#mg)"/><g clip-path="url(#mc)"><ellipse cx="6.3" cy="19.3" rx="1.3" ry="1.6" fill="#c0c0c0" opacity="0.3"/><ellipse cx="5.3" cy="16.8" rx="1.1" ry="1.5" fill="#c0c0c0" opacity="0.3"/><ellipse cx="1.9" cy="15.9" rx="1.6" ry="1.5" fill="#c0c0c0" opacity="0.3"/></g></g>
<g transform="translate(129.99,308.50) scale(1.03,1.0) rotate(-0.4,3.8,11.5)"><use href="#mb" fill="url(#mg)"/><g clip-path="url(#mc)"><ellipse cx="4.5" cy="18.5" rx="0.8" ry="1.1" fill="#c0c0c0" opacity="0.3"/><ellipse cx="2.1" cy="7.5" rx="1.0" ry="1.9" fill="#c0c0c0" opacity="0.3"/><ellipse cx="4.6" cy="7.6" rx="0.9" ry="1.3" fill="#c0c0c0" opacity="0.3"/></g></g>
<g transform="translate(141.59,308.50) scale(1.03,1.0) rotate(-1.6,3.8,11.5)"><use href="#mb" fill="url(#mg)"/><g clip-path="url(#mc)"><ellipse cx="4.3" cy="19.3" rx="1.2" ry="1.3" fill="#c0c0c0" opacity="0.3"/><ellipse cx="1.3" cy="19.2" rx="1.4" ry="1.5" fill="#c0c0c0" opacity="0.3"/><ellipse cx="4.2" cy="12.3" rx="1.0" ry="2.2" fill="#c0c0c0" opacity="0.3"/></g></g>
<g transform="translate(153.09,308.50) scale(1.03,1.0) rotate(0.2,3.8,11.5)"><use href="#mb" fill="url(#mg)"/><g clip-path="url(#mc)"><ellipse cx="4.8" cy="19.9" rx="1.0" ry="1.6" fill="#c0c0c0" opacity="0.3"/><ellipse cx="1.9" cy="16.3" rx="0.8" ry="2.0" fill="#c0c0c0" opacity="0.3"/><ellipse cx="6.1" cy="17.2" rx="0.9" ry="1.3" fill="#c0c0c0" opacity="0.3"/></g></g>
<g transform="translate(118.80,334.60) scale(1.0,1.0)"><use href="#mb" fill="url(#mg)"/><g clip-path="url(#mc)"><ellipse cx="6.0" cy="7.3" rx="1.2" ry="1.6" fill="#c0c0c0" opacity="0.3"/><ellipse cx="1.9" cy="17.3" rx="1.0" ry="1.4" fill="#c0c0c0" opacity="0.3"/><ellipse cx="1.5" cy="8.9" rx="1.2" ry="1.9" fill="#c0c0c0" opacity="0.3"/></g></g>
<g transform="translate(129.99,334.60) scale(1.03,1.0) rotate(-4.1,3.8,11.5)"><use href="#mb" fill="url(#mg)"/><g clip-path="url(#mc)"><ellipse cx="1.8" cy="5.5" rx="1.3" ry="1.8" fill="#c0c0c0" opacity="0.3"/><ellipse cx="2.1" cy="10.4" rx="1.5" ry="1.7" fill="#c0c0c0" opacity="0.3"/><ellipse cx="1.5" cy="7.6" rx="0.9" ry="1.1" fill="#c0c0c0" opacity="0.3"/></g></g>
<g transform="translate(141.70,334.60) scale(1.0,1.0)"><use href="#mb" fill="url(#mg)"/><g clip-path="url(#mc)"><ellipse cx="5.2" cy="19.7" rx="1.4" ry="1.8" fill="#c0c0c0" opacity="0.3"/><ellipse cx="4.7" cy="4.3" rx="1.1" ry="1.4" fill="#c0c0c0" opacity="0.3"/><ellipse cx="4.9" cy="5.7" rx="1.1" ry="1.6" fill="#c0c0c0" opacity="0.3"/></g></g>
<g transform="translate(153.20,334.60) scale(1.0,1.0)"><use href="#mb" fill="url(#mg)"/><g clip-path="url(#mc)"><ellipse cx="5.9" cy="8.6" rx="1.5" ry="1.3" fill="#c0c0c0" opacity="0.3"/><ellipse cx="4.4" cy="17.3" rx="0.9" ry="1.7" fill="#c0c0c0" opacity="0.3"/><ellipse cx="1.5" cy="4.5" rx="0.9" ry="2.2" fill="#c0c0c0" opacity="0.3"/></g></g>
<g transform="translate(118.80,360.70) scale(1.0,1.0)"><use href="#mb" fill="url(#mg)"/><g clip-path="url(#mc)"><ellipse cx="5.4" cy="13.6" rx="1.4" ry="1.4" fill="#c0c0c0" opacity="0.3"/><ellipse cx="4.6" cy="5.1" rx="0.9" ry="1.5" fill="#c0c0c0" opacity="0.3"/><ellipse cx="4.0" cy="10.3" rx="0.8" ry="1.8" fill="#c0c0c0" opacity="0.3"/></g></g>
<g transform="translate(130.10,360.70) scale(1.0,1.0)"><use href="#mb" fill="url(#mg)"/><g clip-path="url(#mc)"><ellipse cx="3.4" cy="9.7" rx="1.3" ry="1.1" fill="#c0c0c0" opacity="0.3"/><ellipse cx="1.2" cy="18.4" rx="1.0" ry="1.6" fill="#c0c0c0" opacity="0.3"/><ellipse cx="6.6" cy="19.6" rx="1.2" ry="1.2" fill="#c0c0c0" opacity="0.3"/></g></g>
<g transform="translate(141.70,360.70) scale(1.0,1.0)"><use href="#mb" fill="url(#mg)"/><g clip-path="url(#mc)"><ellipse cx="5.0" cy="8.4" rx="1.3" ry="1.1" fill="#c0c0c0" opacity="0.3"/><ellipse cx="6.9" cy="11.0" rx="1.2" ry="1.6" fill="#c0c0c0" opacity="0.3"/><ellipse cx="1.3" cy="13.6" rx="1.0" ry="1.3" fill="#c0c0c0" opacity="0.3"/></g></g>
<g transform="translate(153.20,360.70) scale(1.0,1.0)"><use href="#mb" fill="url(#mg)"/><g clip-path="url(#mc)"><ellipse cx="2.1" cy="6.4" rx="0.8" ry="1.6" fill="#c0c0c0" opacity="0.3"/><ellipse cx="3.6" cy="11.1" rx="1.0" ry="2.0" fill="#c0c0c0" opacity="0.3"/><ellipse cx="1.4" cy="18.5" rx="1.3" ry="1.7" fill="#c0c0c0" opacity="0.3"/></g></g>
<g transform="translate(118.80,386.80) scale(1.0,1.0)"><use href="#mb" fill="url(#mg)"/><g clip-path="url(#mc)"><ellipse cx="3.8" cy="18.9" rx="1.1" ry="1.4" fill="#c0c0c0" opacity="0.3"/><ellipse cx="6.9" cy="13.8" rx="0.8" ry="1.5" fill="#c0c0c0" opacity="0.3"/><ellipse cx="4.9" cy="4.9" rx="1.1" ry="1.8" fill="#c0c0c0" opacity="0.3"/></g></g>
<g transform="translate(130.10,386.80) scale(1.0,1.0)"><use href="#mb" fill="url(#mg)"/><g clip-path="url(#mc)"><ellipse cx="4.1" cy="13.1" rx="1.3" ry="1.3" fill="#c0c0c0" opacity="0.3"/><ellipse cx="1.6" cy="4.9" rx="1.4" ry="1.9" fill="#c0c0c0" opacity="0.3"/><ellipse cx="1.8" cy="7.9" rx="1.5" ry="1.1" fill="#c0c0c0" opacity="0.3"/></g></g>
<g transform="translate(141.70,386.80) scale(1.0,1.0)"><use href="#mb" fill="url(#mg)"/><g clip-path="url(#mc)"><ellipse cx="7.0" cy="17.4" rx="1.2" ry="2.0" fill="#c0c0c0" opacity="0.3"/><ellipse cx="3.3" cy="8.1" rx="1.5" ry="1.8" fill="#c0c0c0" opacity="0.3"/><ellipse cx="2.8" cy="13.7" rx="1.2" ry="1.2" fill="#c0c0c0" opacity="0.3"/></g></g>
<g transform="translate(153.20,386.80) scale(1.0,1.0)"><use href="#mb" fill="url(#mg)"/><g clip-path="url(#mc)"><ellipse cx="5.5" cy="11.7" rx="0.8" ry="1.9" fill="#c0c0c0" opacity="0.3"/><ellipse cx="5.5" cy="14.6" rx="0.9" ry="2.0" fill="#c0c0c0" opacity="0.3"/><ellipse cx="4.3" cy="9.7" rx="0.9" ry="1.9" fill="#c0c0c0" opacity="0.3"/></g></g>
<g transform="translate(118.80,412.90) scale(1.0,1.0)"><use href="#mb" fill="url(#mg)"/><g clip-path="url(#mc)"><ellipse cx="5.9" cy="18.2" rx="1.3" ry="1.5" fill="#c0c0c0" opacity="0.3"/><ellipse cx="3.0" cy="18.4" rx="0.8" ry="1.8" fill="#c0c0c0" opacity="0.3"/><ellipse cx="2.3" cy="5.2" rx="0.8" ry="1.7" fill="#c0c0c0" opacity="0.3"/></g></g>
<g transform="translate(130.10,412.90) scale(1.0,1.0)"><use href="#mb" fill="url(#mg)"/><g clip-path="url(#mc)"><ellipse cx="4.4" cy="9.9" rx="1.0" ry="1.9" fill="#c0c0c0" opacity="0.3"/><ellipse cx="4.2" cy="7.8" rx="1.0" ry="1.4" fill="#c0c0c0" opacity="0.3"/><ellipse cx="2.1" cy="12.2" rx="0.9" ry="1.1" fill="#c0c0c0" opacity="0.3"/></g></g>
<g transform="translate(141.70,412.90) scale(1.0,1.0)"><use href="#mb" fill="url(#mg)"/><g clip-path="url(#mc)"><ellipse cx="3.5" cy="14.1" rx="1.1" ry="2.1" fill="#c0c0c0" opacity="0.3"/><ellipse cx="6.9" cy="4.8" rx="1.4" ry="1.1" fill="#c0c0c0" opacity="0.3"/><ellipse cx="1.3" cy="8.6" rx="1.4" ry="2.2" fill="#c0c0c0" opacity="0.3"/></g></g>
<g transform="translate(153.20,412.90) scale(1.0,1.0)"><use href="#mb" fill="url(#mg)"/><g clip-path="url(#mc)"><ellipse cx="3.9" cy="10.6" rx="1.4" ry="1.5" fill="#c0c0c0" opacity="0.3"/><ellipse cx="1.3" cy="12.8" rx="1.3" ry="1.7" fill="#c0c0c0" opacity="0.3"/><ellipse cx="2.7" cy="19.0" rx="1.5" ry="2.2" fill="#c0c0c0" opacity="0.3"/></g></g>
<g transform="translate(118.80,439.00) scale(1.0,1.0)"><use href="#mb" fill="url(#mg)"/><g clip-path="url(#mc)"><ellipse cx="2.6" cy="7.9" rx="1.5" ry="1.6" fill="#c0c0c0" opacity="0.3"/><ellipse cx="2.8" cy="12.5" rx="1.3" ry="2.0" fill="#c0c0c0" opacity="0.3"/><ellipse cx="5.6" cy="19.0" rx="1.2" ry="2.0" fill="#c0c0c0" opacity="0.3"/></g></g>
<g transform="translate(130.10,439.00) scale(1.0,1.0)"><use href="#mb" fill="url(#mg)"/><g clip-path="url(#mc)"><ellipse cx="3.0" cy="15.9" rx="1.0" ry="1.9" fill="#c0c0c0" opacity="0.3"/><ellipse cx="4.3" cy="14.9" rx="0.9" ry="1.1" fill="#c0c0c0" opacity="0.3"/><ellipse cx="1.9" cy="9.6" rx="1.1" ry="1.0" fill="#c0c0c0" opacity="0.3"/></g></g>
<g transform="translate(141.70,439.00) scale(1.0,1.0)"><use href="#mb" fill="url(#mg)"/><g clip-path="url(#mc)"><ellipse cx="4.0" cy="16.5" rx="1.5" ry="2.0" fill="#c0c0c0" opacity="0.3"/><ellipse cx="1.4" cy="10.2" rx="1.5" ry="2.1" fill="#c0c0c0" opacity="0.3"/><ellipse cx="5.7" cy="12.4" rx="0.8" ry="1.9" fill="#c0c0c0" opacity="0.3"/></g></g>
<g transform="translate(153.20,439.00) scale(1.0,1.0)"><use href="#mb" fill="url(#mg)"/><g clip-path="url(#mc)"><ellipse cx="3.8" cy="17.4" rx="1.2" ry="1.5" fill="#c0c0c0" opacity="0.3"/><ellipse cx="4.2" cy="4.7" rx="1.5" ry="1.6" fill="#c0c0c0" opacity="0.3"/><ellipse cx="3.7" cy="8.5" rx="0.8" ry="1.1" fill="#c0c0c0" opacity="0.3"/></g></g>
<g transform="translate(163.99,256.30) scale(1.03,1.0) rotate(-2.7,3.8,11.5)"><use href="#mb" fill="url(#mg)"/><g clip-path="url(#mc)"><ellipse cx="6.0" cy="14.4" rx="1.6" ry="2.0" fill="#c0c0c0" opacity="0.3"/><ellipse cx="5.8" cy="12.2" rx="1.6" ry="1.1" fill="#c0c0c0" opacity="0.3"/><ellipse cx="6.2" cy="15.4" rx="1.0" ry="2.0" fill="#c0c0c0" opacity="0.3"/></g></g>
<g transform="translate(175.69,256.30) scale(1.03,1.0) rotate(-0.5,3.8,11.5)"><use href="#mb" fill="url(#mg)"/><g clip-path="url(#mc)"><ellipse cx="4.2" cy="17.8" rx="1.0" ry="1.3" fill="#c0c0c0" opacity="0.3"/><ellipse cx="4.9" cy="5.2" rx="1.2" ry="1.9" fill="#c0c0c0" opacity="0.3"/><ellipse cx="3.9" cy="7.9" rx="1.4" ry="2.0" fill="#c0c0c0" opacity="0.3"/></g></g>
<g transform="translate(186.89,256.30) scale(1.03,1.0) rotate(2.7,3.8,11.5)"><use href="#mb" fill="url(#mg)"/><g clip-path="url(#mc)"><ellipse cx="4.3" cy="18.5" rx="1.4" ry="1.2" fill="#c0c0c0" opacity="0.3"/><ellipse cx="3.2" cy="5.6" rx="0.8" ry="1.4" fill="#c0c0c0" opacity="0.3"/><ellipse cx="6.2" cy="17.3" rx="0.9" ry="1.2" fill="#c0c0c0" opacity="0.3"/></g></g>
<g transform="translate(163.99,282.40) scale(1.03,1.0) rotate(-1.1,3.8,11.5)"><use href="#mb" fill="url(#mg)"/><g clip-path="url(#mc)"><ellipse cx="6.1" cy="13.9" rx="1.5" ry="1.1" fill="#c0c0c0" opacity="0.3"/><ellipse cx="6.9" cy="7.3" rx="1.3" ry="2.1" fill="#c0c0c0" opacity="0.3"/><ellipse cx="5.4" cy="7.2" rx="1.3" ry="1.5" fill="#c0c0c0" opacity="0.3"/></g></g>
<g transform="translate(175.69,282.40) scale(1.03,1.0) rotate(-4.8,3.8,11.5)"><use href="#mb" fill="url(#mg)"/><g clip-path="url(#mc)"><ellipse cx="3.0" cy="9.0" rx="1.3" ry="1.3" fill="#c0c0c0" opacity="0.3"/><ellipse cx="4.6" cy="15.1" rx="0.9" ry="1.2" fill="#c0c0c0" opacity="0.3"/><ellipse cx="5.2" cy="11.5" rx="0.9" ry="1.1" fill="#c0c0c0" opacity="0.3"/></g></g>
<g transform="translate(186.89,282.40) scale(1.03,1.0) rotate(3.2,3.8,11.5)"><use href="#mb" fill="url(#mg)"/><g clip-path="url(#mc)"><ellipse cx="3.5" cy="11.3" rx="1.2" ry="2.1" fill="#c0c0c0" opacity="0.3"/><ellipse cx="3.1" cy="15.3" rx="1.0" ry="1.7" fill="#c0c0c0" opacity="0.3"/><ellipse cx="2.7" cy="18.0" rx="1.0" ry="2.0" fill="#c0c0c0" opacity="0.3"/></g></g>
<g transform="translate(163.99,308.50) scale(1.03,1.0) rotate(1.9,3.8,11.5)"><use href="#mb" fill="url(#mg)"/><g clip-path="url(#mc)"><ellipse cx="5.0" cy="7.9" rx="1.1" ry="1.2" fill="#c0c0c0" opacity="0.3"/><ellipse cx="6.4" cy="8.0" rx="1.1" ry="1.4" fill="#c0c0c0" opacity="0.3"/><ellipse cx="5.9" cy="17.6" rx="1.3" ry="1.7" fill="#c0c0c0" opacity="0.3"/></g></g>
<g transform="translate(175.69,308.50) scale(1.03,1.0) rotate(-1.4,3.8,11.5)"><use href="#mb" fill="url(#mg)"/><g clip-path="url(#mc)"><ellipse cx="3.2" cy="15.6" rx="1.3" ry="1.4" fill="#c0c0c0" opacity="0.3"/><ellipse cx="6.4" cy="19.2" rx="0.8" ry="1.8" fill="#c0c0c0" opacity="0.3"/><ellipse cx="3.8" cy="9.8" rx="1.2" ry="1.4" fill="#c0c0c0" opacity="0.3"/></g></g>
<g transform="translate(186.89,308.50) scale(1.03,1.0) rotate(2.0,3.8,11.5)"><use href="#mb" fill="url(#mg)"/><g clip-path="url(#mc)"><ellipse cx="7.0" cy="5.1" rx="1.2" ry="1.5" fill="#c0c0c0" opacity="0.3"/><ellipse cx="4.9" cy="7.5" rx="1.6" ry="1.3" fill="#c0c0c0" opacity="0.3"/><ellipse cx="3.2" cy="6.3" rx="1.1" ry="1.9" fill="#c0c0c0" opacity="0.3"/></g></g>
<g transform="translate(164.10,334.60) scale(1.0,1.0)"><use href="#mb" fill="url(#mg)"/><g clip-path="url(#mc)"><ellipse cx="6.2" cy="19.1" rx="1.5" ry="1.0" fill="#c0c0c0" opacity="0.3"/><ellipse cx="3.1" cy="12.6" rx="1.2" ry="1.1" fill="#c0c0c0" opacity="0.3"/><ellipse cx="5.7" cy="8.8" rx="1.2" ry="1.1" fill="#c0c0c0" opacity="0.3"/></g></g>
<g transform="translate(175.80,334.60) scale(1.0,1.0)"><use href="#mb" fill="url(#mg)"/><g clip-path="url(#mc)"><ellipse cx="5.6" cy="16.4" rx="1.1" ry="1.4" fill="#c0c0c0" opacity="0.3"/><ellipse cx="2.3" cy="12.6" rx="1.3" ry="1.5" fill="#c0c0c0" opacity="0.3"/><ellipse cx="6.4" cy="7.3" rx="1.6" ry="1.7" fill="#c0c0c0" opacity="0.3"/></g></g>
<g transform="translate(187.00,334.60) scale(1.0,1.0)"><use href="#mb" fill="url(#mg)"/><g clip-path="url(#mc)"><ellipse cx="4.1" cy="12.4" rx="1.4" ry="1.4" fill="#c0c0c0" opacity="0.3"/><ellipse cx="4.6" cy="5.7" rx="1.4" ry="1.4" fill="#c0c0c0" opacity="0.3"/><ellipse cx="2.5" cy="19.4" rx="1.4" ry="2.0" fill="#c0c0c0" opacity="0.3"/></g></g>
<g transform="translate(164.10,360.70) scale(1.0,1.0)"><use href="#mb" fill="url(#mg)"/><g clip-path="url(#mc)"><ellipse cx="1.3" cy="6.9" rx="0.9" ry="1.9" fill="#c0c0c0" opacity="0.3"/><ellipse cx="3.1" cy="17.7" rx="1.0" ry="1.7" fill="#c0c0c0" opacity="0.3"/><ellipse cx="5.8" cy="19.1" rx="1.3" ry="1.4" fill="#c0c0c0" opacity="0.3"/></g></g>
<g transform="translate(175.80,360.70) scale(1.0,1.0)"><use href="#mb" fill="url(#mg)"/><g clip-path="url(#mc)"><ellipse cx="3.7" cy="18.4" rx="1.4" ry="2.0" fill="#c0c0c0" opacity="0.3"/><ellipse cx="6.7" cy="9.7" rx="1.5" ry="1.9" fill="#c0c0c0" opacity="0.3"/><ellipse cx="5.2" cy="10.4" rx="1.4" ry="1.8" fill="#c0c0c0" opacity="0.3"/></g></g>
<g transform="translate(187.00,360.70) scale(1.0,1.0)"><use href="#mb" fill="url(#mg)"/><g clip-path="url(#mc)"><ellipse cx="1.3" cy="18.7" rx="1.4" ry="1.3" fill="#c0c0c0" opacity="0.3"/><ellipse cx="2.5" cy="7.4" rx="1.5" ry="1.1" fill="#c0c0c0" opacity="0.3"/><ellipse cx="2.1" cy="10.6" rx="1.2" ry="1.5" fill="#c0c0c0" opacity="0.3"/></g></g>
<g transform="translate(164.10,386.80) scale(1.0,1.0)"><use href="#mb" fill="url(#mg)"/><g clip-path="url(#mc)"><ellipse cx="2.7" cy="17.7" rx="1.4" ry="1.3" fill="#c0c0c0" opacity="0.3"/><ellipse cx="2.5" cy="4.3" rx="1.2" ry="1.3" fill="#c0c0c0" opacity="0.3"/><ellipse cx="2.8" cy="8.0" rx="0.9" ry="1.6" fill="#c0c0c0" opacity="0.3"/></g></g>
<g transform="translate(175.80,386.80) scale(1.0,1.0)"><use href="#mb" fill="url(#mg)"/><g clip-path="url(#mc)"><ellipse cx="6.5" cy="16.4" rx="1.0" ry="1.1" fill="#c0c0c0" opacity="0.3"/><ellipse cx="6.6" cy="9.8" rx="1.4" ry="1.3" fill="#c0c0c0" opacity="0.3"/><ellipse cx="3.7" cy="9.9" rx="1.4" ry="2.1" fill="#c0c0c0" opacity="0.3"/></g></g>
<g transform="translate(187.00,386.80) scale(1.0,1.0)"><use href="#mb" fill="url(#mg)"/><g clip-path="url(#mc)"><ellipse cx="2.2" cy="9.9" rx="1.1" ry="1.2" fill="#c0c0c0" opacity="0.3"/><ellipse cx="6.7" cy="14.6" rx="0.9" ry="1.5" fill="#c0c0c0" opacity="0.3"/><ellipse cx="1.9" cy="18.4" rx="1.6" ry="2.2" fill="#c0c0c0" opacity="0.3"/></g></g>
<g transform="translate(164.10,412.90) scale(1.0,1.0)"><use href="#mb" fill="url(#mg)"/><g clip-path="url(#mc)"><ellipse cx="4.3" cy="11.0" rx="1.3" ry="1.1" fill="#c0c0c0" opacity="0.3"/><ellipse cx="5.2" cy="13.8" rx="1.5" ry="2.1" fill="#c0c0c0" opacity="0.3"/><ellipse cx="1.6" cy="6.2" rx="1.0" ry="1.8" fill="#c0c0c0" opacity="0.3"/></g></g>
<g transform="translate(175.80,412.90) scale(1.0,1.0)"><use href="#mb" fill="url(#mg)"/><g clip-path="url(#mc)"><ellipse cx="6.6" cy="4.3" rx="1.2" ry="1.7" fill="#c0c0c0" opacity="0.3"/><ellipse cx="5.1" cy="13.8" rx="1.3" ry="2.1" fill="#c0c0c0" opacity="0.3"/><ellipse cx="1.5" cy="12.3" rx="1.6" ry="1.0" fill="#c0c0c0" opacity="0.3"/></g></g>
<g transform="translate(187.00,412.90) scale(1.0,1.0)"><use href="#mb" fill="url(#mg)"/><g clip-path="url(#mc)"><ellipse cx="6.0" cy="10.5" rx="1.1" ry="1.4" fill="#c0c0c0" opacity="0.3"/><ellipse cx="1.1" cy="16.3" rx="1.0" ry="1.7" fill="#c0c0c0" opacity="0.3"/><ellipse cx="4.2" cy="9.4" rx="1.3" ry="1.5" fill="#c0c0c0" opacity="0.3"/></g></g>
<g transform="translate(198.99,256.30) scale(1.03,1.0) rotate(0.7,3.8,11.5)"><use href="#mb" fill="url(#mg)"/><g clip-path="url(#mc)"><ellipse cx="1.1" cy="9.0" rx="0.9" ry="1.6" fill="#c0c0c0" opacity="0.3"/><ellipse cx="5.4" cy="7.3" rx="0.8" ry="1.3" fill="#c0c0c0" opacity="0.3"/><ellipse cx="1.6" cy="15.0" rx="1.2" ry="1.5" fill="#c0c0c0" opacity="0.3"/></g></g>
<g transform="translate(209.89,256.30) scale(1.03,1.0) rotate(-4.6,3.8,11.5)"><use href="#mb" fill="url(#mg)"/><g clip-path="url(#mc)"><ellipse cx="4.3" cy="6.2" rx="1.3" ry="1.1" fill="#c0c0c0" opacity="0.3"/><ellipse cx="1.4" cy="17.4" rx="1.6" ry="1.5" fill="#c0c0c0" opacity="0.3"/><ellipse cx="5.0" cy="7.7" rx="1.6" ry="1.2" fill="#c0c0c0" opacity="0.3"/></g></g>
<g transform="translate(220.69,256.30) scale(1.03,1.0) rotate(4.1,3.8,11.5)"><use href="#mb" fill="url(#mg)"/><g clip-path="url(#mc)"><ellipse cx="4.4" cy="19.1" rx="0.9" ry="2.2" fill="#c0c0c0" opacity="0.3"/><ellipse cx="6.5" cy="4.8" rx="0.8" ry="2.1" fill="#c0c0c0" opacity="0.3"/><ellipse cx="3.5" cy="6.5" rx="0.9" ry="1.2" fill="#c0c0c0" opacity="0.3"/></g></g>
<g transform="translate(198.99,282.40) scale(1.03,1.0) rotate(-0.1,3.8,11.5)"><use href="#mb" fill="url(#mg)"/><g clip-path="url(#mc)"><ellipse cx="2.4" cy="9.1" rx="0.9" ry="1.2" fill="#c0c0c0" opacity="0.3"/><ellipse cx="5.8" cy="9.1" rx="0.8" ry="1.3" fill="#c0c0c0" opacity="0.3"/><ellipse cx="5.2" cy="7.8" rx="1.5" ry="2.1" fill="#c0c0c0" opacity="0.3"/></g></g>
<g transform="translate(209.89,282.40) scale(1.03,1.0) rotate(1.7,3.8,11.5)"><use href="#mb" fill="url(#mg)"/><g clip-path="url(#mc)"><ellipse cx="3.2" cy="15.6" rx="1.5" ry="1.2" fill="#c0c0c0" opacity="0.3"/><ellipse cx="6.2" cy="19.7" rx="1.4" ry="1.8" fill="#c0c0c0" opacity="0.3"/><ellipse cx="1.7" cy="9.1" rx="1.3" ry="1.3" fill="#c0c0c0" opacity="0.3"/></g></g>
<g transform="translate(220.69,282.40) scale(1.03,1.0) rotate(3.0,3.8,11.5)"><use href="#mb" fill="url(#mg)"/><g clip-path="url(#mc)"><ellipse cx="2.6" cy="5.5" rx="1.3" ry="1.0" fill="#c0c0c0" opacity="0.3"/><ellipse cx="6.5" cy="19.6" rx="1.5" ry="1.8" fill="#c0c0c0" opacity="0.3"/><ellipse cx="2.1" cy="19.4" rx="1.3" ry="1.1" fill="#c0c0c0" opacity="0.3"/></g></g>
<g transform="translate(198.99,308.50) scale(1.03,1.0) rotate(-0.2,3.8,11.5)"><use href="#mb" fill="url(#mg)"/><g clip-path="url(#mc)"><ellipse cx="6.4" cy="13.6" rx="1.1" ry="2.2" fill="#c0c0c0" opacity="0.3"/><ellipse cx="3.9" cy="4.6" rx="0.9" ry="1.6" fill="#c0c0c0" opacity="0.3"/><ellipse cx="5.1" cy="11.0" rx="1.3" ry="1.7" fill="#c0c0c0" opacity="0.3"/></g></g>
<g transform="translate(209.89,308.50) scale(1.03,1.0) rotate(3.2,3.8,11.5)"><use href="#mb" fill="url(#mg)"/><g clip-path="url(#mc)"><ellipse cx="6.8" cy="4.4" rx="1.1" ry="2.2" fill="#c0c0c0" opacity="0.3"/><ellipse cx="4.7" cy="5.0" rx="0.8" ry="1.4" fill="#c0c0c0" opacity="0.3"/><ellipse cx="2.0" cy="19.6" rx="1.1" ry="2.0" fill="#c0c0c0" opacity="0.3"/></g></g>
<g transform="translate(220.69,308.50) scale(1.03,1.0) rotate(-0.7,3.8,11.5)"><use href="#mb" fill="url(#mg)"/><g clip-path="url(#mc)"><ellipse cx="4.5" cy="8.1" rx="1.6" ry="1.6" fill="#c0c0c0" opacity="0.3"/><ellipse cx="5.1" cy="13.9" rx="1.5" ry="1.8" fill="#c0c0c0" opacity="0.3"/><ellipse cx="3.8" cy="13.0" rx="1.5" ry="1.9" fill="#c0c0c0" opacity="0.3"/></g></g>
<g transform="translate(199.10,334.60) scale(1.0,1.0)"><use href="#mb" fill="url(#mg)"/><g clip-path="url(#mc)"><ellipse cx="3.4" cy="15.2" rx="1.1" ry="1.8" fill="#c0c0c0" opacity="0.3"/><ellipse cx="4.8" cy="4.1" rx="1.2" ry="1.1" fill="#c0c0c0" opacity="0.3"/><ellipse cx="5.5" cy="16.8" rx="1.3" ry="1.8" fill="#c0c0c0" opacity="0.3"/></g></g>
<g transform="translate(210.00,334.60) scale(1.0,1.0)"><use href="#mb" fill="url(#mg)"/><g clip-path="url(#mc)"><ellipse cx="5.8" cy="15.4" rx="1.4" ry="2.0" fill="#c0c0c0" opacity="0.3"/><ellipse cx="2.1" cy="17.0" rx="1.0" ry="1.3" fill="#c0c0c0" opacity="0.3"/><ellipse cx="6.5" cy="4.4" rx="1.2" ry="1.4" fill="#c0c0c0" opacity="0.3"/></g></g>
<g transform="translate(220.69,334.60) scale(1.03,1.0) rotate(-1.8,3.8,11.5)"><use href="#mb" fill="url(#mg)"/><g clip-path="url(#mc)"><ellipse cx="2.6" cy="7.0" rx="1.3" ry="1.8" fill="#c0c0c0" opacity="0.3"/><ellipse cx="6.7" cy="9.3" rx="1.5" ry="2.1" fill="#c0c0c0" opacity="0.3"/><ellipse cx="2.7" cy="19.2" rx="1.3" ry="2.2" fill="#c0c0c0" opacity="0.3"/></g></g>
<g transform="translate(199.10,360.70) scale(1.0,1.0)"><use href="#mb" fill="url(#mg)"/><g clip-path="url(#mc)"><ellipse cx="2.4" cy="9.2" rx="0.9" ry="1.1" fill="#c0c0c0" opacity="0.3"/><ellipse cx="3.1" cy="12.4" rx="1.6" ry="1.8" fill="#c0c0c0" opacity="0.3"/><ellipse cx="3.5" cy="10.5" rx="1.0" ry="1.6" fill="#c0c0c0" opacity="0.3"/></g></g>
<g transform="translate(210.00,360.70) scale(1.0,1.0)"><use href="#mb" fill="url(#mg)"/><g clip-path="url(#mc)"><ellipse cx="4.9" cy="15.3" rx="1.2" ry="1.5" fill="#c0c0c0" opacity="0.3"/><ellipse cx="1.6" cy="11.6" rx="1.6" ry="2.1" fill="#c0c0c0" opacity="0.3"/><ellipse cx="1.3" cy="5.1" rx="1.0" ry="1.8" fill="#c0c0c0" opacity="0.3"/></g></g>
<g transform="translate(220.80,360.70) scale(1.0,1.0)"><use href="#mb" fill="url(#mg)"/><g clip-path="url(#mc)"><ellipse cx="3.8" cy="18.1" rx="1.2" ry="1.5" fill="#c0c0c0" opacity="0.3"/><ellipse cx="6.4" cy="19.6" rx="1.4" ry="1.5" fill="#c0c0c0" opacity="0.3"/><ellipse cx="5.0" cy="15.9" rx="1.0" ry="1.9" fill="#c0c0c0" opacity="0.3"/></g></g>
<g transform="translate(199.10,386.80) scale(1.0,1.0)"><use href="#mb" fill="url(#mg)"/><g clip-path="url(#mc)"><ellipse cx="1.2" cy="16.0" rx="1.3" ry="2.0" fill="#c0c0c0" opacity="0.3"/><ellipse cx="4.1" cy="4.3" rx="1.4" ry="1.4" fill="#c0c0c0" opacity="0.3"/><ellipse cx="6.7" cy="9.2" rx="1.5" ry="2.0" fill="#c0c0c0" opacity="0.3"/></g></g>
<g transform="translate(210.00,386.80) scale(1.0,1.0)"><use href="#mb" fill="url(#mg)"/><g clip-path="url(#mc)"><ellipse cx="3.2" cy="9.1" rx="1.4" ry="2.1" fill="#c0c0c0" opacity="0.3"/><ellipse cx="6.1" cy="15.2" rx="0.8" ry="2.1" fill="#c0c0c0" opacity="0.3"/><ellipse cx="5.7" cy="8.5" rx="1.2" ry="1.4" fill="#c0c0c0" opacity="0.3"/></g></g>
<g transform="translate(220.80,386.80) scale(1.0,1.0)"><use href="#mb" fill="url(#mg)"/><g clip-path="url(#mc)"><ellipse cx="2.9" cy="11.5" rx="1.0" ry="1.7" fill="#c0c0c0" opacity="0.3"/><ellipse cx="3.1" cy="9.8" rx="1.0" ry="1.4" fill="#c0c0c0" opacity="0.3"/><ellipse cx="2.6" cy="4.3" rx="1.0" ry="1.7" fill="#c0c0c0" opacity="0.3"/></g></g>
<g transform="translate(199.10,412.90) scale(1.0,1.0)"><use href="#mb" fill="url(#mg)"/><g clip-path="url(#mc)"><ellipse cx="6.2" cy="17.4" rx="1.3" ry="1.8" fill="#c0c0c0" opacity="0.3"/><ellipse cx="5.5" cy="11.3" rx="1.1" ry="1.7" fill="#c0c0c0" opacity="0.3"/><ellipse cx="6.3" cy="19.9" rx="1.5" ry="2.0" fill="#c0c0c0" opacity="0.3"/></g></g>
<g transform="translate(210.00,412.90) scale(1.0,1.0)"><use href="#mb" fill="url(#mg)"/><g clip-path="url(#mc)"><ellipse cx="2.3" cy="5.2" rx="1.4" ry="1.4" fill="#c0c0c0" opacity="0.3"/><ellipse cx="6.7" cy="12.9" rx="0.9" ry="1.8" fill="#c0c0c0" opacity="0.3"/><ellipse cx="2.6" cy="17.0" rx="1.4" ry="1.9" fill="#c0c0c0" opacity="0.3"/></g></g>
<g transform="translate(220.80,412.90) scale(1.0,1.0)"><use href="#mb" fill="url(#mg)"/><g clip-path="url(#mc)"><ellipse cx="2.8" cy="18.1" rx="1.3" ry="1.5" fill="#c0c0c0" opacity="0.3"/><ellipse cx="4.9" cy="10.6" rx="1.3" ry="1.0" fill="#c0c0c0" opacity="0.3"/><ellipse cx="4.5" cy="8.3" rx="1.0" ry="1.1" fill="#c0c0c0" opacity="0.3"/></g></g>
<g transform="translate(199.10,439.00) scale(1.0,1.0)"><use href="#mb" fill="url(#mg)"/><g clip-path="url(#mc)"><ellipse cx="3.2" cy="13.7" rx="1.2" ry="1.5" fill="#c0c0c0" opacity="0.3"/><ellipse cx="6.7" cy="14.3" rx="1.3" ry="1.2" fill="#c0c0c0" opacity="0.3"/><ellipse cx="1.1" cy="14.5" rx="1.3" ry="1.8" fill="#c0c0c0" opacity="0.3"/></g></g>
<g transform="translate(210.00,439.00) scale(1.0,1.0)"><use href="#mb" fill="url(#mg)"/><g clip-path="url(#mc)"><ellipse cx="1.2" cy="4.5" rx="1.5" ry="1.5" fill="#c0c0c0" opacity="0.3"/><ellipse cx="1.5" cy="4.7" rx="1.5" ry="1.7" fill="#c0c0c0" opacity="0.3"/><ellipse cx="6.5" cy="4.6" rx="0.9" ry="1.3" fill="#c0c0c0" opacity="0.3"/></g></g>
<g transform="translate(220.80,439.00) scale(1.0,1.0)"><use href="#mb" fill="url(#mg)"/><g clip-path="url(#mc)"><ellipse cx="2.8" cy="19.8" rx="0.8" ry="2.0" fill="#c0c0c0" opacity="0.3"/><ellipse cx="6.6" cy="10.8" rx="1.4" ry="2.0" fill="#c0c0c0" opacity="0.3"/><ellipse cx="2.7" cy="8.6" rx="1.3" ry="1.2" fill="#c0c0c0" opacity="0.3"/></g></g>
<g transform="translate(63.03,220.00) scale(0.86,0.9)"><use href="#mb" fill="url(#mg)"/><g clip-path="url(#mc)"><ellipse cx="6.0" cy="17.2" rx="1.1" ry="2.6" fill="#7640c0"/><ellipse cx="5.3" cy="18.9" rx="1.4" ry="2.0" fill="#7640c0"/><ellipse cx="6.7" cy="19.4" rx="1.7" ry="2.4" fill="#7640c0"/><ellipse cx="7.0" cy="18.4" rx="1.8" ry="2.5" fill="#7640c0"/></g></g>
<g transform="translate(73.93,220.00) scale(0.86,0.9)"><use href="#mb" fill="url(#mg)"/><g clip-path="url(#mc)"><rect x="-1" y="2.5" width="10" height="22" fill="#7640c0"/><ellipse cx="2.7" cy="11.9" rx="0.9" ry="1.6" fill="#ece4f6"/></g></g>
<g transform="translate(85.23,220.00) scale(0.86,0.9)"><use href="#mb" fill="url(#mg)"/><g clip-path="url(#mc)"><ellipse cx="4.8" cy="11.9" rx="1.7" ry="1.5" fill="#7640c0"/><ellipse cx="6.7" cy="11.2" rx="1.3" ry="2.1" fill="#7640c0"/><ellipse cx="6.1" cy="5.5" rx="1.2" ry="1.9" fill="#7640c0"/><ellipse cx="4.4" cy="13.7" rx="1.3" ry="1.7" fill="#7640c0"/><ellipse cx="4.5" cy="16.7" rx="1.1" ry="2.2" fill="#7640c0"/><ellipse cx="4.6" cy="15.3" rx="1.6" ry="1.9" fill="#7640c0"/><ellipse cx="0.7" cy="11.9" rx="2.1" ry="2.3" fill="#7640c0"/></g></g>
<g transform="translate(96.73,220.00) scale(0.86,0.9)"><use href="#mb" fill="url(#mg)"/><g clip-path="url(#mc)"><ellipse cx="1.7" cy="12.4" rx="1.6" ry="2.1" fill="#7640c0"/><ellipse cx="2.2" cy="14.0" rx="1.3" ry="2.2" fill="#7640c0"/><ellipse cx="5.6" cy="13.6" rx="1.7" ry="2.5" fill="#7640c0"/><ellipse cx="4.8" cy="20.3" rx="1.2" ry="2.0" fill="#7640c0"/><ellipse cx="5.0" cy="11.7" rx="2.0" ry="2.0" fill="#7640c0"/></g></g>
<g transform="translate(107.53,220.00) scale(0.86,0.9)"><use href="#mb" fill="url(#mg)"/><g clip-path="url(#mc)"><rect x="-1" y="2.5" width="10" height="22" fill="#7640c0"/><ellipse cx="4.1" cy="14.8" rx="1.6" ry="0.9" fill="#ece4f6"/></g></g>
<g transform="translate(119.33,220.00) scale(0.86,0.9)"><use href="#mb" fill="url(#mg)"/><g clip-path="url(#mc)"><rect x="-1" y="2.5" width="10" height="22" fill="#7640c0"/><ellipse cx="5.7" cy="6.2" rx="1.3" ry="1.1" fill="#ece4f6"/></g></g>
<g transform="translate(130.63,220.00) scale(0.86,0.9)"><use href="#mb" fill="url(#mg)"/><g clip-path="url(#mc)"><ellipse cx="2.2" cy="12.3" rx="2.0" ry="2.5" fill="#7640c0"/><ellipse cx="0.9" cy="15.4" rx="1.6" ry="1.3" fill="#7640c0"/><ellipse cx="4.3" cy="18.6" rx="1.2" ry="1.7" fill="#7640c0"/><ellipse cx="1.1" cy="16.2" rx="2.0" ry="2.5" fill="#7640c0"/><ellipse cx="2.9" cy="15.4" rx="1.4" ry="1.8" fill="#7640c0"/><ellipse cx="4.6" cy="8.9" rx="1.1" ry="2.0" fill="#7640c0"/></g></g>
<g transform="translate(142.23,220.00) scale(0.86,0.9)"><use href="#mb" fill="url(#mg)"/><g clip-path="url(#mc)"><ellipse cx="2.6" cy="12.1" rx="1.3" ry="1.8" fill="#7640c0"/><ellipse cx="1.9" cy="12.1" rx="2.0" ry="1.9" fill="#7640c0"/><ellipse cx="6.4" cy="7.5" rx="1.3" ry="2.0" fill="#7640c0"/></g></g>
<g transform="translate(153.73,220.00) scale(0.86,0.9)"><use href="#mb" fill="url(#mg)"/><g clip-path="url(#mc)"><ellipse cx="2.8" cy="10.8" rx="1.1" ry="2.5" fill="#7640c0"/><ellipse cx="5.2" cy="6.2" rx="1.7" ry="1.8" fill="#7640c0"/><ellipse cx="2.3" cy="20.4" rx="1.8" ry="2.5" fill="#7640c0"/><ellipse cx="4.9" cy="18.7" rx="1.1" ry="1.4" fill="#7640c0"/><ellipse cx="5.1" cy="13.5" rx="2.2" ry="2.5" fill="#7640c0"/><ellipse cx="3.4" cy="14.1" rx="1.1" ry="1.5" fill="#7640c0"/><ellipse cx="1.5" cy="15.4" rx="1.4" ry="1.7" fill="#7640c0"/><ellipse cx="6.4" cy="16.7" rx="1.0" ry="1.4" fill="#7640c0"/></g></g>
<g transform="translate(164.63,220.00) scale(0.86,0.9)"><use href="#mb" fill="url(#mg)"/><g clip-path="url(#mc)"><rect x="-1" y="2.5" width="10" height="22" fill="#7640c0"/><ellipse cx="2.1" cy="6.2" rx="1.5" ry="1.5" fill="#ece4f6"/></g></g>
<g transform="translate(176.33,220.00) scale(0.86,0.9)"><use href="#mb" fill="url(#mg)"/><g clip-path="url(#mc)"><ellipse cx="0.9" cy="15.8" rx="1.3" ry="1.8" fill="#7640c0"/><ellipse cx="4.4" cy="5.8" rx="2.1" ry="1.7" fill="#7640c0"/><ellipse cx="1.4" cy="17.5" rx="1.1" ry="1.3" fill="#7640c0"/><ellipse cx="4.7" cy="12.5" rx="2.1" ry="2.3" fill="#7640c0"/><ellipse cx="1.8" cy="5.7" rx="1.7" ry="1.9" fill="#7640c0"/><ellipse cx="2.5" cy="19.7" rx="1.3" ry="2.1" fill="#7640c0"/><ellipse cx="1.0" cy="19.8" rx="2.1" ry="2.1" fill="#7640c0"/></g></g>
<g transform="translate(187.53,220.00) scale(0.86,0.9)"><use href="#mb" fill="url(#mg)"/><g clip-path="url(#mc)"><ellipse cx="2.6" cy="16.6" rx="2.1" ry="2.3" fill="#7640c0"/><ellipse cx="0.8" cy="13.1" rx="1.2" ry="2.0" fill="#7640c0"/><ellipse cx="6.7" cy="18.8" rx="1.3" ry="2.0" fill="#7640c0"/><ellipse cx="2.6" cy="7.7" rx="1.9" ry="2.3" fill="#7640c0"/><ellipse cx="2.7" cy="11.7" rx="1.8" ry="2.2" fill="#7640c0"/></g></g>
<g transform="translate(199.63,220.00) scale(0.86,0.9)"><use href="#mb" fill="url(#mg)"/><g clip-path="url(#mc)"><rect x="-1" y="2.5" width="10" height="22" fill="#7640c0"/><ellipse cx="1.8" cy="12.2" rx="1.0" ry="1.0" fill="#ece4f6"/><ellipse cx="3.4" cy="17.5" rx="1.2" ry="1.0" fill="#ece4f6"/></g></g>
<g transform="translate(210.53,220.00) scale(0.86,0.9)"><use href="#mb" fill="url(#mg)"/><g clip-path="url(#mc)"><rect x="-1" y="2.5" width="10" height="22" fill="#7640c0"/><ellipse cx="2.3" cy="19.6" rx="1.3" ry="0.9" fill="#ece4f6"/></g></g>
<g transform="translate(221.33,220.00) scale(0.86,0.9)"><use href="#mb" fill="url(#mg)"/><g clip-path="url(#mc)"><ellipse cx="5.1" cy="14.6" rx="1.7" ry="2.3" fill="#7640c0"/><ellipse cx="4.5" cy="19.0" rx="2.2" ry="1.8" fill="#7640c0"/><ellipse cx="4.7" cy="11.0" rx="1.5" ry="1.7" fill="#7640c0"/><ellipse cx="4.7" cy="10.6" rx="1.4" ry="2.4" fill="#7640c0"/><ellipse cx="5.7" cy="15.8" rx="2.0" ry="1.7" fill="#7640c0"/></g></g>
<g filter="url(#heat)"><g transform="translate(106.69,334.60) scale(1.03,1.0) rotate(0.7,3.8,11.5)"><ellipse cx="4.52" cy="19.98" rx="2.08" ry="1.70" fill="#fff" fill-opacity="0.17"/></g><g transform="translate(106.69,360.70) scale(1.03,1.0) rotate(-4.7,3.8,11.5)"><ellipse cx="2.73" cy="19.49" rx="2.77" ry="2.05" fill="#fff" fill-opacity="0.17"/><ellipse cx="5.29" cy="19.53" rx="2.37" ry="2.44" fill="#fff" fill-opacity="0.17"/></g><g transform="translate(106.69,386.80) scale(1.03,1.0) rotate(0.1,3.8,11.5)"><ellipse cx="5.41" cy="19.92" rx="2.11" ry="1.70" fill="#fff" fill-opacity="0.17"/></g><g transform="translate(106.69,412.90) scale(1.03,1.0) rotate(-0.7,3.8,11.5)"><ellipse cx="2.66" cy="19.80" rx="2.62" ry="2.52" fill="#fff" fill-opacity="0.17"/><ellipse cx="5.82" cy="19.40" rx="2.56" ry="2.30" fill="#fff" fill-opacity="0.17"/></g><g transform="translate(153.09,282.40) scale(1.03,1.0) rotate(2.4,3.8,11.5)"><ellipse cx="1.94" cy="19.97" rx="2.60" ry="2.30" fill="#fff" fill-opacity="0.17"/><ellipse cx="5.70" cy="19.72" rx="2.62" ry="2.55" fill="#fff" fill-opacity="0.17"/><ellipse cx="5.30" cy="12.67" rx="2.11" ry="2.28" fill="#fff" fill-opacity="0.17"/></g><g transform="translate(118.69,308.50) scale(1.03,1.0) rotate(3.3,3.8,11.5)"><ellipse cx="3.80" cy="19.33" rx="4.72" ry="2.85" fill="#fff" fill-opacity="0.17"/><ellipse cx="4.55" cy="4.65" rx="2.85" ry="3.11" fill="#fff" fill-opacity="0.17"/><ellipse cx="4.42" cy="13.33" rx="1.83" ry="1.94" fill="#fff" fill-opacity="0.17"/></g><g transform="translate(129.99,308.50) scale(1.03,1.0) rotate(-0.4,3.8,11.5)"><ellipse cx="1.72" cy="19.76" rx="2.39" ry="2.33" fill="#fff" fill-opacity="0.17"/><ellipse cx="6.06" cy="19.48" rx="2.36" ry="2.53" fill="#fff" fill-opacity="0.17"/></g><g transform="translate(141.59,308.50) scale(1.03,1.0) rotate(-1.6,3.8,11.5)"><ellipse cx="2.35" cy="19.24" rx="2.21" ry="2.28" fill="#fff" fill-opacity="0.17"/><ellipse cx="5.48" cy="19.80" rx="2.63" ry="2.36" fill="#fff" fill-opacity="0.17"/><ellipse cx="2.63" cy="11.29" rx="1.76" ry="2.32" fill="#fff" fill-opacity="0.17"/></g><g transform="translate(153.09,308.50) scale(1.03,1.0) rotate(0.2,3.8,11.5)"><ellipse cx="3.80" cy="19.77" rx="4.66" ry="2.89" fill="#fff" fill-opacity="0.17"/><ellipse cx="4.53" cy="5.97" rx="3.29" ry="3.30" fill="#fff" fill-opacity="0.17"/><ellipse cx="5.05" cy="12.25" rx="2.34" ry="1.96" fill="#fff" fill-opacity="0.17"/></g><g transform="translate(117.88,334.60) scale(1.05,1.0)"><g clip-path="url(#hc)"><rect x="-1" y="-1" width="11" height="12.5" fill="#fff" fill-opacity="0.13"/><rect x="-1" y="13.9" width="11" height="10.1" fill="#fff" fill-opacity="0.13"/></g><ellipse cx="4.50" cy="16.66" rx="3.40" ry="2.60" fill="#fff" fill-opacity="0.08"/><ellipse cx="5.38" cy="15.69" rx="1.98" ry="1.68" fill="#fff" fill-opacity="0.08"/><ellipse cx="6.32" cy="15.10" rx="1.68" ry="1.94" fill="#fff" fill-opacity="0.06"/><ellipse cx="5.86" cy="17.55" rx="2.04" ry="2.58" fill="#fff" fill-opacity="0.10"/><ellipse cx="3.45" cy="16.26" rx="1.07" ry="0.95" fill="#fff" fill-opacity="0.17"/><ellipse cx="3.96" cy="18.00" rx="0.93" ry="0.90" fill="#fff" fill-opacity="0.22"/><ellipse cx="6.28" cy="6.81" rx="1.23" ry="1.00" fill="#fff" fill-opacity="0.11"/></g><g transform="translate(129.99,334.60) scale(1.03,1.0) rotate(-4.1,3.8,11.5)"><ellipse cx="2.03" cy="19.07" rx="2.75" ry="2.26" fill="#fff" fill-opacity="0.17"/><ellipse cx="5.67" cy="19.65" rx="2.66" ry="2.49" fill="#fff" fill-opacity="0.17"/><ellipse cx="3.33" cy="11.65" rx="1.61" ry="2.04" fill="#fff" fill-opacity="0.17"/></g><g transform="translate(140.78,334.60) scale(1.05,1.0)"><g clip-path="url(#hc)"><rect x="-1" y="-1" width="11" height="13.2" fill="#fff" fill-opacity="0.13"/><rect x="-1" y="14.6" width="11" height="9.4" fill="#fff" fill-opacity="0.13"/></g><ellipse cx="4.50" cy="17.42" rx="3.40" ry="2.60" fill="#fff" fill-opacity="0.09"/><ellipse cx="3.27" cy="12.16" rx="1.50" ry="1.85" fill="#fff" fill-opacity="0.08"/><ellipse cx="4.57" cy="12.76" rx="1.40" ry="2.90" fill="#fff" fill-opacity="0.10"/><ellipse cx="6.18" cy="15.18" rx="1.27" ry="1.11" fill="#fff" fill-opacity="0.17"/><ellipse cx="2.42" cy="15.47" rx="1.09" ry="1.15" fill="#fff" fill-opacity="0.19"/><ellipse cx="6.65" cy="16.17" rx="1.03" ry="0.86" fill="#fff" fill-opacity="0.28"/><ellipse cx="2.68" cy="19.42" rx="1.07" ry="1.08" fill="#fff" fill-opacity="0.22"/><ellipse cx="6.14" cy="8.96" rx="1.29" ry="1.16" fill="#fff" fill-opacity="0.06"/></g><g transform="translate(152.28,334.60) scale(1.05,1.0)"><g clip-path="url(#hc)"><rect x="-1" y="-1" width="11" height="13.4" fill="#fff" fill-opacity="0.13"/><rect x="-1" y="14.7" width="11" height="9.3" fill="#fff" fill-opacity="0.13"/></g><ellipse cx="4.50" cy="16.96" rx="3.40" ry="2.60" fill="#fff" fill-opacity="0.11"/><ellipse cx="5.08" cy="13.89" rx="1.96" ry="1.74" fill="#fff" fill-opacity="0.08"/><ellipse cx="2.17" cy="11.97" rx="1.32" ry="2.11" fill="#fff" fill-opacity="0.07"/><ellipse cx="2.66" cy="7.15" rx="2.13" ry="1.58" fill="#fff" fill-opacity="0.09"/><ellipse cx="5.35" cy="14.87" rx="1.28" ry="1.10" fill="#fff" fill-opacity="0.25"/><ellipse cx="4.06" cy="17.74" rx="1.14" ry="1.18" fill="#fff" fill-opacity="0.29"/><ellipse cx="4.43" cy="19.97" rx="1.22" ry="1.23" fill="#fff" fill-opacity="0.24"/><ellipse cx="4.17" cy="17.40" rx="1.25" ry="1.06" fill="#fff" fill-opacity="0.25"/><ellipse cx="6.12" cy="5.60" rx="0.83" ry="1.24" fill="#fff" fill-opacity="0.11"/></g><g transform="translate(117.88,360.70) scale(1.05,1.0)"><path d="M4.5,0 C5.8,1 7.4,3 8.2,5.5 C8.9,8 9,11 9,13.5 C9,17.5 8.5,20 6.8,21.6 C5.8,22.4 3.2,22.4 2.2,21.6 C0.5,20 0,17.5 0,13.5 C0,11 0.1,8 0.8,5.5 C1.6,3 3.2,1 4.5,0 Z" fill="#fff" fill-opacity="0.13"/><ellipse cx="4.50" cy="17.29" rx="3.40" ry="2.60" fill="#fff" fill-opacity="0.12"/><ellipse cx="4.72" cy="14.17" rx="2.14" ry="2.82" fill="#fff" fill-opacity="0.10"/><ellipse cx="5.65" cy="17.81" rx="1.57" ry="2.32" fill="#fff" fill-opacity="0.08"/><ellipse cx="3.11" cy="18.48" rx="1.08" ry="1.25" fill="#fff" fill-opacity="0.21"/><ellipse cx="5.96" cy="14.74" rx="1.07" ry="1.28" fill="#fff" fill-opacity="0.20"/><ellipse cx="3.70" cy="5.62" rx="0.84" ry="1.34" fill="#fff" fill-opacity="0.11"/></g><g transform="translate(129.18,360.70) scale(1.05,1.0)"><path d="M4.5,0 C5.8,1 7.4,3 8.2,5.5 C8.9,8 9,11 9,13.5 C9,17.5 8.5,20 6.8,21.6 C5.8,22.4 3.2,22.4 2.2,21.6 C0.5,20 0,17.5 0,13.5 C0,11 0.1,8 0.8,5.5 C1.6,3 3.2,1 4.5,0 Z" fill="#fff" fill-opacity="0.13"/><ellipse cx="6.30" cy="14.77" rx="1.26" ry="1.97" fill="#fff" fill-opacity="0.09"/><ellipse cx="6.50" cy="3.27" rx="1.84" ry="2.55" fill="#fff" fill-opacity="0.08"/><ellipse cx="4.67" cy="7.02" rx="2.15" ry="2.96" fill="#fff" fill-opacity="0.09"/><ellipse cx="5.72" cy="10.38" rx="1.90" ry="2.33" fill="#fff" fill-opacity="0.24"/><ellipse cx="2.53" cy="15.74" rx="1.94" ry="1.78" fill="#fff" fill-opacity="0.12"/><ellipse cx="3.01" cy="10.30" rx="1.71" ry="1.46" fill="#fff" fill-opacity="0.14"/><ellipse cx="3.07" cy="15.30" rx="1.79" ry="1.68" fill="#fff" fill-opacity="0.23"/><ellipse cx="6.58" cy="14.26" rx="1.23" ry="1.59" fill="#fff" fill-opacity="0.29"/></g><g transform="translate(140.46,360.70) scale(1.12,1.0)"><path d="M4.5,0 C5.8,1 7.4,3 8.2,5.5 C8.9,8 9,11 9,13.5 C9,17.5 8.5,20 6.8,21.6 C5.8,22.4 3.2,22.4 2.2,21.6 C0.5,20 0,17.5 0,13.5 C0,11 0.1,8 0.8,5.5 C1.6,3 3.2,1 4.5,0 Z" fill="#fff" fill-opacity="0.13"/><ellipse cx="2.82" cy="19.80" rx="1.39" ry="1.77" fill="#fff" fill-opacity="0.09"/><ellipse cx="2.14" cy="16.44" rx="1.35" ry="2.85" fill="#fff" fill-opacity="0.08"/><ellipse cx="3.88" cy="19.01" rx="1.50" ry="1.43" fill="#fff" fill-opacity="0.24"/><ellipse cx="5.28" cy="11.03" rx="1.66" ry="2.22" fill="#fff" fill-opacity="0.23"/><ellipse cx="4.53" cy="17.84" rx="1.68" ry="1.88" fill="#fff" fill-opacity="0.32"/><ellipse cx="2.74" cy="16.92" rx="1.17" ry="1.99" fill="#fff" fill-opacity="0.18"/><ellipse cx="4.18" cy="16.82" rx="1.79" ry="2.23" fill="#fff" fill-opacity="0.18"/><ellipse cx="4.44" cy="9.10" rx="1.58" ry="1.85" fill="#fff" fill-opacity="0.14"/><ellipse cx="4.79" cy="16.29" rx="1.70" ry="2.30" fill="#fff" fill-opacity="0.40"/></g><g transform="translate(151.96,360.70) scale(1.12,1.0)"><path d="M4.5,0 C5.8,1 7.4,3 8.2,5.5 C8.9,8 9,11 9,13.5 C9,17.5 8.5,20 6.8,21.6 C5.8,22.4 3.2,22.4 2.2,21.6 C0.5,20 0,17.5 0,13.5 C0,11 0.1,8 0.8,5.5 C1.6,3 3.2,1 4.5,0 Z" fill="#fff" fill-opacity="0.17"/><ellipse cx="5.12" cy="3.92" rx="1.63" ry="2.54" fill="#fff" fill-opacity="0.09"/><ellipse cx="5.69" cy="16.27" rx="1.97" ry="2.25" fill="#fff" fill-opacity="0.09"/><ellipse cx="2.73" cy="9.57" rx="1.16" ry="2.10" fill="#fff" fill-opacity="0.36"/><ellipse cx="6.05" cy="6.86" rx="1.41" ry="1.67" fill="#fff" fill-opacity="0.23"/><ellipse cx="7.04" cy="6.59" rx="1.49" ry="2.19" fill="#fff" fill-opacity="0.39"/><ellipse cx="2.58" cy="12.37" rx="1.74" ry="1.25" fill="#fff" fill-opacity="0.24"/><ellipse cx="6.61" cy="7.98" rx="1.39" ry="1.59" fill="#fff" fill-opacity="0.27"/><ellipse cx="2.21" cy="6.48" rx="2.00" ry="2.19" fill="#fff" fill-opacity="0.34"/><ellipse cx="3.69" cy="13.52" rx="1.69" ry="1.79" fill="#fff" fill-opacity="0.76"/></g><g transform="translate(117.88,386.80) scale(1.05,1.0)"><path d="M4.5,0 C5.8,1 7.4,3 8.2,5.5 C8.9,8 9,11 9,13.5 C9,17.5 8.5,20 6.8,21.6 C5.8,22.4 3.2,22.4 2.2,21.6 C0.5,20 0,17.5 0,13.5 C0,11 0.1,8 0.8,5.5 C1.6,3 3.2,1 4.5,0 Z" fill="#fff" fill-opacity="0.13"/><ellipse cx="4.50" cy="17.80" rx="3.40" ry="2.60" fill="#fff" fill-opacity="0.10"/><ellipse cx="4.31" cy="9.68" rx="2.04" ry="2.07" fill="#fff" fill-opacity="0.09"/><ellipse cx="3.08" cy="8.91" rx="1.38" ry="2.32" fill="#fff" fill-opacity="0.07"/><ellipse cx="4.00" cy="17.56" rx="1.18" ry="1.04" fill="#fff" fill-opacity="0.23"/><ellipse cx="5.13" cy="15.09" rx="1.04" ry="1.07" fill="#fff" fill-opacity="0.22"/><ellipse cx="3.61" cy="8.74" rx="1.17" ry="1.11" fill="#fff" fill-opacity="0.10"/></g><g transform="translate(129.18,386.80) scale(1.05,1.0)"><g clip-path="url(#hc)"><rect x="-1" y="7" width="11" height="17" fill="#fff" fill-opacity="0.14"/></g><ellipse cx="4.50" cy="13.50" rx="3.40" ry="3.60" fill="#fff" fill-opacity="0.30"/><ellipse cx="4.50" cy="13.20" rx="2.20" ry="2.40" fill="#fff" fill-opacity="0.80"/></g><g transform="translate(140.78,386.80) scale(1.05,1.0)"><path d="M4.5,0 C5.8,1 7.4,3 8.2,5.5 C8.9,8 9,11 9,13.5 C9,17.5 8.5,20 6.8,21.6 C5.8,22.4 3.2,22.4 2.2,21.6 C0.5,20 0,17.5 0,13.5 C0,11 0.1,8 0.8,5.5 C1.6,3 3.2,1 4.5,0 Z" fill="#fff" fill-opacity="0.13"/><ellipse cx="4.50" cy="17.27" rx="3.40" ry="2.60" fill="#fff" fill-opacity="0.12"/><ellipse cx="2.16" cy="8.31" rx="1.62" ry="2.32" fill="#fff" fill-opacity="0.07"/><ellipse cx="5.53" cy="7.43" rx="1.93" ry="2.50" fill="#fff" fill-opacity="0.07"/><ellipse cx="6.17" cy="17.21" rx="1.02" ry="0.87" fill="#fff" fill-opacity="0.27"/><ellipse cx="3.78" cy="14.62" rx="0.99" ry="1.11" fill="#fff" fill-opacity="0.22"/></g><g transform="translate(151.96,386.80) scale(1.12,1.0)"><path d="M4.5,0 C5.8,1 7.4,3 8.2,5.5 C8.9,8 9,11 9,13.5 C9,17.5 8.5,20 6.8,21.6 C5.8,22.4 3.2,22.4 2.2,21.6 C0.5,20 0,17.5 0,13.5 C0,11 0.1,8 0.8,5.5 C1.6,3 3.2,1 4.5,0 Z" fill="#fff" fill-opacity="0.13"/><ellipse cx="3.17" cy="13.75" rx="1.29" ry="2.14" fill="#fff" fill-opacity="0.08"/><ellipse cx="2.30" cy="9.52" rx="1.53" ry="2.25" fill="#fff" fill-opacity="0.07"/><ellipse cx="2.79" cy="9.84" rx="1.68" ry="1.75" fill="#fff" fill-opacity="0.09"/><ellipse cx="4.61" cy="16.40" rx="1.91" ry="2.25" fill="#fff" fill-opacity="0.26"/><ellipse cx="3.19" cy="17.94" rx="1.31" ry="2.39" fill="#fff" fill-opacity="0.34"/><ellipse cx="2.45" cy="18.74" rx="1.91" ry="1.55" fill="#fff" fill-opacity="0.24"/><ellipse cx="6.37" cy="10.20" rx="1.72" ry="2.35" fill="#fff" fill-opacity="0.17"/><ellipse cx="3.11" cy="13.94" rx="1.56" ry="1.84" fill="#fff" fill-opacity="0.58"/></g><g transform="translate(117.56,412.90) scale(1.12,1.0)"><path d="M4.5,0 C5.8,1 7.4,3 8.2,5.5 C8.9,8 9,11 9,13.5 C9,17.5 8.5,20 6.8,21.6 C5.8,22.4 3.2,22.4 2.2,21.6 C0.5,20 0,17.5 0,13.5 C0,11 0.1,8 0.8,5.5 C1.6,3 3.2,1 4.5,0 Z" fill="#fff" fill-opacity="0.25"/><ellipse cx="2.32" cy="4.16" rx="1.66" ry="2.17" fill="#fff" fill-opacity="0.10"/><ellipse cx="3.92" cy="16.67" rx="1.88" ry="1.91" fill="#fff" fill-opacity="0.08"/><ellipse cx="4.37" cy="3.36" rx="1.81" ry="1.90" fill="#fff" fill-opacity="0.07"/><ellipse cx="3.07" cy="6.01" rx="1.54" ry="1.71" fill="#fff" fill-opacity="0.27"/><ellipse cx="4.47" cy="15.10" rx="1.55" ry="2.01" fill="#fff" fill-opacity="0.33"/><ellipse cx="6.29" cy="19.56" rx="1.33" ry="1.65" fill="#fff" fill-opacity="0.40"/><ellipse cx="3.49" cy="16.02" rx="1.70" ry="2.09" fill="#fff" fill-opacity="0.41"/><ellipse cx="5.47" cy="12.96" rx="1.74" ry="1.99" fill="#fff" fill-opacity="0.92"/></g><g transform="translate(128.86,412.90) scale(1.12,1.0)"><path d="M4.5,0 C5.8,1 7.4,3 8.2,5.5 C8.9,8 9,11 9,13.5 C9,17.5 8.5,20 6.8,21.6 C5.8,22.4 3.2,22.4 2.2,21.6 C0.5,20 0,17.5 0,13.5 C0,11 0.1,8 0.8,5.5 C1.6,3 3.2,1 4.5,0 Z" fill="#fff" fill-opacity="0.29"/><ellipse cx="6.09" cy="18.06" rx="1.51" ry="2.77" fill="#fff" fill-opacity="0.08"/><ellipse cx="5.40" cy="3.69" rx="1.82" ry="2.12" fill="#fff" fill-opacity="0.08"/><ellipse cx="3.17" cy="13.10" rx="1.80" ry="1.71" fill="#fff" fill-opacity="0.38"/><ellipse cx="3.16" cy="16.02" rx="1.33" ry="1.63" fill="#fff" fill-opacity="0.39"/><ellipse cx="6.35" cy="17.60" rx="1.57" ry="1.75" fill="#fff" fill-opacity="0.38"/><ellipse cx="5.16" cy="17.63" rx="1.80" ry="1.36" fill="#fff" fill-opacity="0.31"/><ellipse cx="5.41" cy="9.23" rx="1.18" ry="1.22" fill="#fff" fill-opacity="0.35"/><ellipse cx="5.82" cy="17.82" rx="1.39" ry="2.15" fill="#fff" fill-opacity="0.92"/></g><g transform="translate(140.46,412.90) scale(1.12,1.0)"><path d="M4.5,0 C5.8,1 7.4,3 8.2,5.5 C8.9,8 9,11 9,13.5 C9,17.5 8.5,20 6.8,21.6 C5.8,22.4 3.2,22.4 2.2,21.6 C0.5,20 0,17.5 0,13.5 C0,11 0.1,8 0.8,5.5 C1.6,3 3.2,1 4.5,0 Z" fill="#fff" fill-opacity="0.33"/><ellipse cx="4.02" cy="18.38" rx="2.03" ry="2.78" fill="#fff" fill-opacity="0.07"/><ellipse cx="2.34" cy="10.46" rx="2.07" ry="2.47" fill="#fff" fill-opacity="0.07"/><ellipse cx="5.14" cy="16.72" rx="1.98" ry="1.71" fill="#fff" fill-opacity="0.39"/><ellipse cx="4.75" cy="17.20" rx="1.15" ry="1.43" fill="#fff" fill-opacity="0.27"/><ellipse cx="6.84" cy="9.52" rx="1.49" ry="1.36" fill="#fff" fill-opacity="0.31"/><ellipse cx="1.90" cy="13.92" rx="1.14" ry="2.01" fill="#fff" fill-opacity="0.30"/><ellipse cx="3.03" cy="12.75" rx="1.37" ry="1.54" fill="#fff" fill-opacity="0.26"/><ellipse cx="2.15" cy="18.50" rx="1.31" ry="1.30" fill="#fff" fill-opacity="0.29"/><ellipse cx="4.45" cy="17.98" rx="1.44" ry="2.29" fill="#fff" fill-opacity="0.92"/></g><g transform="translate(151.96,412.90) scale(1.12,1.0)"><ellipse cx="4.50" cy="11.20" rx="4.40" ry="10.40" fill="#fff" fill-opacity="0.25"/><ellipse cx="4.70" cy="8.22" rx="3.17" ry="4.82" fill="#fff" fill-opacity="0.82"/><ellipse cx="4.50" cy="14.67" rx="3.94" ry="5.84" fill="#fff" fill-opacity="0.86"/><ellipse cx="4.50" cy="11.50" rx="3.80" ry="4.50" fill="#fff" fill-opacity="0.70"/><ellipse cx="2.60" cy="12.67" rx="1.56" ry="2.70" fill="#fff" fill-opacity="0.60"/><ellipse cx="6.05" cy="6.76" rx="1.86" ry="3.15" fill="#fff" fill-opacity="0.60"/></g><g transform="translate(117.56,439.00) scale(1.12,1.0)"><ellipse cx="4.50" cy="11.20" rx="4.40" ry="10.40" fill="#fff" fill-opacity="0.25"/><ellipse cx="4.74" cy="8.12" rx="3.10" ry="4.91" fill="#fff" fill-opacity="0.82"/><ellipse cx="4.50" cy="14.82" rx="4.12" ry="6.10" fill="#fff" fill-opacity="0.86"/><ellipse cx="4.50" cy="11.50" rx="3.80" ry="4.50" fill="#fff" fill-opacity="0.70"/><ellipse cx="5.74" cy="10.38" rx="2.14" ry="2.53" fill="#fff" fill-opacity="0.60"/><ellipse cx="3.62" cy="16.86" rx="1.82" ry="2.14" fill="#fff" fill-opacity="0.60"/></g><g transform="translate(128.86,439.00) scale(1.12,1.0)"><ellipse cx="4.50" cy="11.20" rx="4.40" ry="10.40" fill="#fff" fill-opacity="0.25"/><ellipse cx="4.44" cy="7.82" rx="3.31" ry="5.56" fill="#fff" fill-opacity="0.82"/><ellipse cx="4.50" cy="14.70" rx="4.16" ry="5.99" fill="#fff" fill-opacity="0.86"/><ellipse cx="4.50" cy="11.50" rx="3.80" ry="4.50" fill="#fff" fill-opacity="0.70"/><ellipse cx="4.82" cy="9.86" rx="1.97" ry="3.41" fill="#fff" fill-opacity="0.60"/></g><g transform="translate(140.46,439.00) scale(1.12,1.0)"><ellipse cx="4.50" cy="11.20" rx="4.40" ry="10.40" fill="#fff" fill-opacity="0.25"/><ellipse cx="4.23" cy="8.12" rx="3.24" ry="5.15" fill="#fff" fill-opacity="0.58"/><ellipse cx="4.50" cy="15.21" rx="4.03" ry="6.38" fill="#fff" fill-opacity="0.86"/><ellipse cx="4.50" cy="11.50" rx="3.80" ry="4.50" fill="#fff" fill-opacity="0.70"/><ellipse cx="2.99" cy="14.86" rx="2.24" ry="2.65" fill="#fff" fill-opacity="0.60"/></g><g transform="translate(151.96,439.00) scale(1.12,1.0)"><ellipse cx="4.50" cy="11.20" rx="4.40" ry="10.40" fill="#fff" fill-opacity="0.25"/><ellipse cx="4.52" cy="7.83" rx="3.20" ry="5.30" fill="#fff" fill-opacity="0.82"/><ellipse cx="4.50" cy="14.69" rx="4.04" ry="6.13" fill="#fff" fill-opacity="0.86"/><ellipse cx="4.50" cy="11.50" rx="3.80" ry="4.50" fill="#fff" fill-opacity="0.70"/><ellipse cx="5.97" cy="7.52" rx="2.49" ry="2.74" fill="#fff" fill-opacity="0.60"/></g><g transform="translate(175.69,282.40) scale(1.03,1.0) rotate(-4.8,3.8,11.5)"><ellipse cx="2.72" cy="19.61" rx="2.41" ry="2.12" fill="#fff" fill-opacity="0.17"/><ellipse cx="6.29" cy="19.69" rx="2.64" ry="2.22" fill="#fff" fill-opacity="0.17"/><ellipse cx="3.63" cy="10.59" rx="1.98" ry="2.05" fill="#fff" fill-opacity="0.17"/></g><g transform="translate(186.89,282.40) scale(1.03,1.0) rotate(3.2,3.8,11.5)"><ellipse cx="2.38" cy="19.45" rx="2.76" ry="2.23" fill="#fff" fill-opacity="0.17"/><ellipse cx="5.97" cy="19.60" rx="2.47" ry="2.04" fill="#fff" fill-opacity="0.17"/><ellipse cx="3.13" cy="11.76" rx="2.17" ry="1.98" fill="#fff" fill-opacity="0.17"/></g><g transform="translate(163.99,308.50) scale(1.03,1.0) rotate(1.9,3.8,11.5)"><ellipse cx="2.40" cy="20.34" rx="1.65" ry="1.70" fill="#fff" fill-opacity="0.17"/></g><g transform="translate(175.69,308.50) scale(1.03,1.0) rotate(-1.4,3.8,11.5)"><ellipse cx="3.80" cy="19.74" rx="4.96" ry="3.18" fill="#fff" fill-opacity="0.17"/><ellipse cx="5.97" cy="12.19" rx="2.28" ry="2.35" fill="#fff" fill-opacity="0.17"/></g><g transform="translate(186.89,308.50) scale(1.03,1.0) rotate(2.0,3.8,11.5)"><ellipse cx="3.80" cy="19.27" rx="4.70" ry="2.99" fill="#fff" fill-opacity="0.17"/><ellipse cx="4.19" cy="5.13" rx="3.25" ry="3.73" fill="#fff" fill-opacity="0.17"/><ellipse cx="4.99" cy="11.36" rx="2.03" ry="1.91" fill="#fff" fill-opacity="0.17"/></g><g transform="translate(163.18,334.60) scale(1.05,1.0)"><g clip-path="url(#hc)"><rect x="-1" y="-1" width="11" height="12.9" fill="#fff" fill-opacity="0.13"/><rect x="-1" y="13.8" width="11" height="10.2" fill="#fff" fill-opacity="0.13"/></g><ellipse cx="4.50" cy="16.63" rx="3.40" ry="2.60" fill="#fff" fill-opacity="0.08"/><ellipse cx="3.47" cy="16.22" rx="1.45" ry="2.12" fill="#fff" fill-opacity="0.06"/><ellipse cx="3.09" cy="10.68" rx="1.76" ry="2.19" fill="#fff" fill-opacity="0.09"/><ellipse cx="2.52" cy="17.45" rx="1.35" ry="2.96" fill="#fff" fill-opacity="0.08"/><ellipse cx="5.09" cy="19.78" rx="1.16" ry="0.86" fill="#fff" fill-opacity="0.24"/><ellipse cx="3.14" cy="18.78" rx="0.85" ry="1.17" fill="#fff" fill-opacity="0.17"/><ellipse cx="3.47" cy="17.71" rx="1.00" ry="1.05" fill="#fff" fill-opacity="0.25"/></g><g transform="translate(174.88,334.60) scale(1.05,1.0)"><g clip-path="url(#hc)"><rect x="-1" y="-1" width="11" height="12.2" fill="#fff" fill-opacity="0.13"/><rect x="-1" y="13.8" width="11" height="10.2" fill="#fff" fill-opacity="0.13"/></g><ellipse cx="4.50" cy="17.89" rx="3.40" ry="2.60" fill="#fff" fill-opacity="0.12"/><ellipse cx="3.97" cy="8.09" rx="1.94" ry="1.89" fill="#fff" fill-opacity="0.07"/><ellipse cx="4.15" cy="11.11" rx="1.56" ry="2.15" fill="#fff" fill-opacity="0.08"/><ellipse cx="3.56" cy="17.19" rx="0.88" ry="0.99" fill="#fff" fill-opacity="0.25"/><ellipse cx="6.09" cy="18.05" rx="1.16" ry="0.82" fill="#fff" fill-opacity="0.25"/></g><g transform="translate(186.08,334.60) scale(1.05,1.0)"><g clip-path="url(#hc)"><rect x="-1" y="8.4" width="11" height="16" fill="#fff" fill-opacity="0.14"/></g><ellipse cx="4.50" cy="15.50" rx="3.00" ry="3.50" fill="#fff" fill-opacity="0.30"/><ellipse cx="5.29" cy="16.00" rx="1.30" ry="1.30" fill="#fff" fill-opacity="0.30"/></g><g transform="translate(162.86,360.70) scale(1.12,1.0)"><path d="M4.5,0 C5.8,1 7.4,3 8.2,5.5 C8.9,8 9,11 9,13.5 C9,17.5 8.5,20 6.8,21.6 C5.8,22.4 3.2,22.4 2.2,21.6 C0.5,20 0,17.5 0,13.5 C0,11 0.1,8 0.8,5.5 C1.6,3 3.2,1 4.5,0 Z" fill="#fff" fill-opacity="0.21"/><ellipse cx="3.43" cy="14.56" rx="1.29" ry="2.98" fill="#fff" fill-opacity="0.09"/><ellipse cx="3.64" cy="8.40" rx="2.02" ry="2.68" fill="#fff" fill-opacity="0.09"/><ellipse cx="7.20" cy="12.86" rx="1.40" ry="1.31" fill="#fff" fill-opacity="0.23"/><ellipse cx="3.64" cy="16.05" rx="1.62" ry="2.09" fill="#fff" fill-opacity="0.25"/><ellipse cx="4.75" cy="17.53" rx="1.48" ry="1.64" fill="#fff" fill-opacity="0.33"/><ellipse cx="6.73" cy="17.50" rx="1.17" ry="1.31" fill="#fff" fill-opacity="0.34"/><ellipse cx="3.42" cy="16.54" rx="1.77" ry="2.24" fill="#fff" fill-opacity="0.85"/></g><g transform="translate(174.56,360.70) scale(1.12,1.0)"><path d="M4.5,0 C5.8,1 7.4,3 8.2,5.5 C8.9,8 9,11 9,13.5 C9,17.5 8.5,20 6.8,21.6 C5.8,22.4 3.2,22.4 2.2,21.6 C0.5,20 0,17.5 0,13.5 C0,11 0.1,8 0.8,5.5 C1.6,3 3.2,1 4.5,0 Z" fill="#fff" fill-opacity="0.17"/><ellipse cx="6.61" cy="6.59" rx="1.61" ry="2.30" fill="#fff" fill-opacity="0.09"/><ellipse cx="2.62" cy="17.85" rx="1.67" ry="1.55" fill="#fff" fill-opacity="0.08"/><ellipse cx="2.88" cy="15.84" rx="1.49" ry="1.77" fill="#fff" fill-opacity="0.35"/><ellipse cx="4.56" cy="12.74" rx="1.55" ry="2.31" fill="#fff" fill-opacity="0.34"/><ellipse cx="3.55" cy="6.21" rx="1.82" ry="2.05" fill="#fff" fill-opacity="0.27"/><ellipse cx="6.14" cy="15.57" rx="1.45" ry="1.97" fill="#fff" fill-opacity="0.28"/><ellipse cx="5.96" cy="8.07" rx="1.70" ry="1.72" fill="#fff" fill-opacity="0.21"/><ellipse cx="4.47" cy="15.79" rx="1.55" ry="1.93" fill="#fff" fill-opacity="0.76"/></g><g transform="translate(186.08,360.70) scale(1.05,1.0)"><path d="M4.5,0 C5.8,1 7.4,3 8.2,5.5 C8.9,8 9,11 9,13.5 C9,17.5 8.5,20 6.8,21.6 C5.8,22.4 3.2,22.4 2.2,21.6 C0.5,20 0,17.5 0,13.5 C0,11 0.1,8 0.8,5.5 C1.6,3 3.2,1 4.5,0 Z" fill="#fff" fill-opacity="0.13"/><ellipse cx="4.50" cy="16.68" rx="3.40" ry="2.60" fill="#fff" fill-opacity="0.11"/><ellipse cx="5.77" cy="4.74" rx="1.51" ry="2.77" fill="#fff" fill-opacity="0.06"/><ellipse cx="5.49" cy="12.66" rx="1.75" ry="2.00" fill="#fff" fill-opacity="0.07"/><ellipse cx="6.03" cy="14.59" rx="1.19" ry="0.91" fill="#fff" fill-opacity="0.21"/><ellipse cx="4.67" cy="17.66" rx="0.86" ry="1.18" fill="#fff" fill-opacity="0.26"/><ellipse cx="6.50" cy="19.54" rx="1.14" ry="0.98" fill="#fff" fill-opacity="0.31"/></g><g transform="translate(162.86,386.80) scale(1.12,1.0)"><ellipse cx="4.50" cy="11.20" rx="4.40" ry="10.40" fill="#fff" fill-opacity="0.25"/><ellipse cx="4.37" cy="7.78" rx="3.30" ry="5.50" fill="#fff" fill-opacity="0.82"/><ellipse cx="4.50" cy="14.66" rx="4.16" ry="6.31" fill="#fff" fill-opacity="0.86"/><ellipse cx="4.50" cy="11.50" rx="3.80" ry="4.50" fill="#fff" fill-opacity="0.70"/><ellipse cx="4.68" cy="14.81" rx="2.03" ry="2.99" fill="#fff" fill-opacity="0.60"/></g><g transform="translate(174.56,386.80) scale(1.12,1.0)"><ellipse cx="4.50" cy="11.20" rx="4.40" ry="10.40" fill="#fff" fill-opacity="0.25"/><ellipse cx="4.54" cy="7.85" rx="3.19" ry="5.56" fill="#fff" fill-opacity="0.82"/><ellipse cx="4.50" cy="14.61" rx="4.18" ry="6.19" fill="#fff" fill-opacity="0.86"/><ellipse cx="4.50" cy="11.50" rx="3.80" ry="4.50" fill="#fff" fill-opacity="0.70"/><ellipse cx="3.71" cy="6.03" rx="2.43" ry="3.44" fill="#fff" fill-opacity="0.60"/></g><g transform="translate(186.08,386.80) scale(1.05,1.0)"><ellipse cx="4.50" cy="14.20" rx="4.40" ry="7.80" fill="#fff" fill-opacity="0.25"/><ellipse cx="4.50" cy="15.20" rx="3.90" ry="6.00" fill="#fff" fill-opacity="0.86"/><ellipse cx="4.92" cy="11.50" rx="3.20" ry="3.60" fill="#fff" fill-opacity="0.72"/></g><g transform="translate(162.86,412.90) scale(1.12,1.0)"><ellipse cx="4.50" cy="11.20" rx="4.40" ry="10.40" fill="#fff" fill-opacity="0.25"/><ellipse cx="4.76" cy="8.40" rx="3.14" ry="5.52" fill="#fff" fill-opacity="0.82"/><ellipse cx="4.50" cy="14.76" rx="3.97" ry="5.96" fill="#fff" fill-opacity="0.86"/><ellipse cx="4.50" cy="11.50" rx="3.80" ry="4.50" fill="#fff" fill-opacity="0.70"/><ellipse cx="6.40" cy="17.40" rx="2.43" ry="3.29" fill="#fff" fill-opacity="0.60"/></g><g transform="translate(174.56,412.90) scale(1.12,1.0)"><ellipse cx="4.50" cy="11.20" rx="4.40" ry="10.40" fill="#fff" fill-opacity="0.25"/><ellipse cx="4.72" cy="8.46" rx="3.11" ry="4.83" fill="#fff" fill-opacity="0.82"/><ellipse cx="4.50" cy="15.33" rx="4.11" ry="6.11" fill="#fff" fill-opacity="0.86"/><ellipse cx="4.50" cy="11.50" rx="3.80" ry="4.50" fill="#fff" fill-opacity="0.70"/><ellipse cx="2.50" cy="6.81" rx="2.29" ry="3.46" fill="#fff" fill-opacity="0.60"/></g><g transform="translate(185.76,412.90) scale(1.12,1.0)"><ellipse cx="4.50" cy="11.20" rx="4.40" ry="10.40" fill="#fff" fill-opacity="0.25"/><ellipse cx="4.73" cy="7.68" rx="3.16" ry="5.00" fill="#fff" fill-opacity="0.82"/><ellipse cx="4.50" cy="14.98" rx="4.14" ry="6.00" fill="#fff" fill-opacity="0.86"/><ellipse cx="4.50" cy="11.50" rx="3.80" ry="4.50" fill="#fff" fill-opacity="0.70"/><ellipse cx="5.21" cy="13.32" rx="2.10" ry="2.86" fill="#fff" fill-opacity="0.60"/></g><g transform="translate(209.89,282.40) scale(1.03,1.0) rotate(1.7,3.8,11.5)"><ellipse cx="4.09" cy="20.22" rx="1.87" ry="1.70" fill="#fff" fill-opacity="0.17"/></g><g transform="translate(198.99,308.50) scale(1.03,1.0) rotate(-0.2,3.8,11.5)"><ellipse cx="3.13" cy="19.07" rx="1.84" ry="1.70" fill="#fff" fill-opacity="0.17"/></g><g transform="translate(209.89,308.50) scale(1.03,1.0) rotate(3.2,3.8,11.5)"><ellipse cx="3.80" cy="19.65" rx="5.01" ry="2.75" fill="#fff" fill-opacity="0.17"/><ellipse cx="2.25" cy="11.43" rx="2.11" ry="2.33" fill="#fff" fill-opacity="0.17"/></g><g transform="translate(220.69,308.50) scale(1.03,1.0) rotate(-0.7,3.8,11.5)"><ellipse cx="5.74" cy="19.47" rx="1.93" ry="1.70" fill="#fff" fill-opacity="0.17"/></g><g transform="translate(198.18,334.60) scale(1.05,1.0)"><g clip-path="url(#hc)"><rect x="-1" y="-1" width="11" height="13.0" fill="#fff" fill-opacity="0.13"/><rect x="-1" y="14.1" width="11" height="9.9" fill="#fff" fill-opacity="0.13"/></g><ellipse cx="4.50" cy="17.25" rx="3.40" ry="2.60" fill="#fff" fill-opacity="0.06"/><ellipse cx="2.28" cy="8.43" rx="1.84" ry="1.59" fill="#fff" fill-opacity="0.07"/><ellipse cx="2.14" cy="12.15" rx="1.25" ry="1.92" fill="#fff" fill-opacity="0.06"/><ellipse cx="4.92" cy="9.78" rx="1.24" ry="1.79" fill="#fff" fill-opacity="0.09"/><ellipse cx="4.13" cy="17.33" rx="1.27" ry="1.04" fill="#fff" fill-opacity="0.15"/><ellipse cx="3.45" cy="19.05" rx="1.05" ry="0.97" fill="#fff" fill-opacity="0.11"/><ellipse cx="5.84" cy="8.02" rx="1.39" ry="1.35" fill="#fff" fill-opacity="0.10"/></g><g transform="translate(209.08,334.60) scale(1.05,1.0)"><g clip-path="url(#hc)"><rect x="-1" y="-1" width="11" height="13.2" fill="#fff" fill-opacity="0.13"/><rect x="-1" y="14.5" width="11" height="9.5" fill="#fff" fill-opacity="0.13"/></g><ellipse cx="4.50" cy="17.87" rx="3.40" ry="2.60" fill="#fff" fill-opacity="0.08"/><ellipse cx="6.88" cy="5.72" rx="1.46" ry="1.93" fill="#fff" fill-opacity="0.08"/><ellipse cx="3.27" cy="13.38" rx="1.97" ry="1.89" fill="#fff" fill-opacity="0.09"/><ellipse cx="2.63" cy="18.36" rx="0.83" ry="1.23" fill="#fff" fill-opacity="0.23"/><ellipse cx="5.93" cy="19.24" rx="1.08" ry="1.27" fill="#fff" fill-opacity="0.21"/><ellipse cx="4.46" cy="16.31" rx="0.98" ry="0.81" fill="#fff" fill-opacity="0.14"/><ellipse cx="5.98" cy="15.37" rx="1.13" ry="1.19" fill="#fff" fill-opacity="0.22"/></g><g transform="translate(220.69,334.60) scale(1.03,1.0) rotate(-1.8,3.8,11.5)"><ellipse cx="2.51" cy="19.33" rx="2.37" ry="2.31" fill="#fff" fill-opacity="0.17"/><ellipse cx="5.63" cy="19.04" rx="2.72" ry="2.32" fill="#fff" fill-opacity="0.17"/><ellipse cx="4.98" cy="11.00" rx="1.72" ry="2.15" fill="#fff" fill-opacity="0.17"/></g><g transform="translate(198.18,360.70) scale(1.05,1.0)"><path d="M4.5,0 C5.8,1 7.4,3 8.2,5.5 C8.9,8 9,11 9,13.5 C9,17.5 8.5,20 6.8,21.6 C5.8,22.4 3.2,22.4 2.2,21.6 C0.5,20 0,17.5 0,13.5 C0,11 0.1,8 0.8,5.5 C1.6,3 3.2,1 4.5,0 Z" fill="#fff" fill-opacity="0.13"/><ellipse cx="4.50" cy="17.94" rx="3.40" ry="2.60" fill="#fff" fill-opacity="0.11"/><ellipse cx="4.15" cy="11.09" rx="1.62" ry="2.44" fill="#fff" fill-opacity="0.09"/><ellipse cx="6.62" cy="11.50" rx="2.15" ry="2.38" fill="#fff" fill-opacity="0.08"/><ellipse cx="4.64" cy="15.14" rx="1.18" ry="0.83" fill="#fff" fill-opacity="0.20"/><ellipse cx="4.76" cy="15.64" rx="1.16" ry="1.16" fill="#fff" fill-opacity="0.22"/></g><g transform="translate(209.08,360.70) scale(1.05,1.0)"><path d="M4.5,0 C5.8,1 7.4,3 8.2,5.5 C8.9,8 9,11 9,13.5 C9,17.5 8.5,20 6.8,21.6 C5.8,22.4 3.2,22.4 2.2,21.6 C0.5,20 0,17.5 0,13.5 C0,11 0.1,8 0.8,5.5 C1.6,3 3.2,1 4.5,0 Z" fill="#fff" fill-opacity="0.13"/><ellipse cx="6.34" cy="19.92" rx="1.70" ry="2.68" fill="#fff" fill-opacity="0.07"/><ellipse cx="6.07" cy="7.08" rx="2.06" ry="2.11" fill="#fff" fill-opacity="0.06"/><ellipse cx="4.82" cy="7.17" rx="1.77" ry="2.10" fill="#fff" fill-opacity="0.08"/><ellipse cx="3.91" cy="12.56" rx="1.11" ry="2.44" fill="#fff" fill-opacity="0.29"/><ellipse cx="4.43" cy="14.23" rx="1.32" ry="2.48" fill="#fff" fill-opacity="0.14"/><ellipse cx="3.44" cy="9.09" rx="1.87" ry="1.86" fill="#fff" fill-opacity="0.20"/><ellipse cx="3.95" cy="18.42" rx="1.26" ry="2.23" fill="#fff" fill-opacity="0.26"/><ellipse cx="4.22" cy="11.12" rx="1.44" ry="1.79" fill="#fff" fill-opacity="0.18"/><ellipse cx="5.17" cy="11.76" rx="1.30" ry="2.20" fill="#fff" fill-opacity="0.21"/></g><g transform="translate(219.88,360.70) scale(1.05,1.0)"><path d="M4.5,0 C5.8,1 7.4,3 8.2,5.5 C8.9,8 9,11 9,13.5 C9,17.5 8.5,20 6.8,21.6 C5.8,22.4 3.2,22.4 2.2,21.6 C0.5,20 0,17.5 0,13.5 C0,11 0.1,8 0.8,5.5 C1.6,3 3.2,1 4.5,0 Z" fill="#fff" fill-opacity="0.13"/><ellipse cx="4.50" cy="17.92" rx="3.40" ry="2.60" fill="#fff" fill-opacity="0.12"/><ellipse cx="4.18" cy="14.11" rx="1.43" ry="2.66" fill="#fff" fill-opacity="0.08"/><ellipse cx="6.90" cy="8.81" rx="1.91" ry="1.53" fill="#fff" fill-opacity="0.08"/><ellipse cx="5.83" cy="7.41" rx="1.81" ry="1.83" fill="#fff" fill-opacity="0.08"/><ellipse cx="5.74" cy="16.60" rx="1.05" ry="0.83" fill="#fff" fill-opacity="0.23"/><ellipse cx="5.26" cy="14.40" rx="1.29" ry="1.16" fill="#fff" fill-opacity="0.25"/><ellipse cx="4.41" cy="5.28" rx="1.21" ry="1.04" fill="#fff" fill-opacity="0.06"/></g><g transform="translate(198.18,386.80) scale(1.05,1.0)"><path d="M4.5,0 C5.8,1 7.4,3 8.2,5.5 C8.9,8 9,11 9,13.5 C9,17.5 8.5,20 6.8,21.6 C5.8,22.4 3.2,22.4 2.2,21.6 C0.5,20 0,17.5 0,13.5 C0,11 0.1,8 0.8,5.5 C1.6,3 3.2,1 4.5,0 Z" fill="#fff" fill-opacity="0.13"/><ellipse cx="4.50" cy="17.24" rx="3.40" ry="2.60" fill="#fff" fill-opacity="0.12"/><ellipse cx="3.45" cy="16.70" rx="1.62" ry="1.72" fill="#fff" fill-opacity="0.08"/><ellipse cx="4.30" cy="12.01" rx="2.19" ry="2.35" fill="#fff" fill-opacity="0.10"/><ellipse cx="3.76" cy="15.90" rx="1.28" ry="1.95" fill="#fff" fill-opacity="0.09"/><ellipse cx="3.82" cy="15.30" rx="1.15" ry="0.87" fill="#fff" fill-opacity="0.28"/><ellipse cx="4.57" cy="17.24" rx="1.00" ry="1.00" fill="#fff" fill-opacity="0.31"/><ellipse cx="5.13" cy="19.01" rx="1.11" ry="0.90" fill="#fff" fill-opacity="0.20"/><ellipse cx="6.55" cy="17.82" rx="0.81" ry="0.90" fill="#fff" fill-opacity="0.20"/><ellipse cx="4.83" cy="7.33" rx="0.97" ry="1.00" fill="#fff" fill-opacity="0.09"/></g><g transform="translate(208.76,386.80) scale(1.12,1.0)"><path d="M4.5,0 C5.8,1 7.4,3 8.2,5.5 C8.9,8 9,11 9,13.5 C9,17.5 8.5,20 6.8,21.6 C5.8,22.4 3.2,22.4 2.2,21.6 C0.5,20 0,17.5 0,13.5 C0,11 0.1,8 0.8,5.5 C1.6,3 3.2,1 4.5,0 Z" fill="#fff" fill-opacity="0.25"/><ellipse cx="5.01" cy="8.43" rx="1.85" ry="2.88" fill="#fff" fill-opacity="0.09"/><ellipse cx="6.43" cy="5.99" rx="1.38" ry="2.39" fill="#fff" fill-opacity="0.09"/><ellipse cx="3.72" cy="15.89" rx="1.22" ry="2.35" fill="#fff" fill-opacity="0.39"/><ellipse cx="3.02" cy="11.10" rx="1.23" ry="2.13" fill="#fff" fill-opacity="0.23"/><ellipse cx="5.56" cy="6.88" rx="1.84" ry="1.91" fill="#fff" fill-opacity="0.34"/><ellipse cx="2.31" cy="6.62" rx="1.35" ry="2.48" fill="#fff" fill-opacity="0.34"/><ellipse cx="6.46" cy="6.88" rx="1.10" ry="1.23" fill="#fff" fill-opacity="0.36"/><ellipse cx="3.53" cy="13.64" rx="1.77" ry="2.16" fill="#fff" fill-opacity="0.92"/></g><g transform="translate(219.88,386.80) scale(1.05,1.0)"><path d="M4.5,0 C5.8,1 7.4,3 8.2,5.5 C8.9,8 9,11 9,13.5 C9,17.5 8.5,20 6.8,21.6 C5.8,22.4 3.2,22.4 2.2,21.6 C0.5,20 0,17.5 0,13.5 C0,11 0.1,8 0.8,5.5 C1.6,3 3.2,1 4.5,0 Z" fill="#fff" fill-opacity="0.13"/><ellipse cx="4.50" cy="16.90" rx="3.40" ry="2.60" fill="#fff" fill-opacity="0.11"/><ellipse cx="2.81" cy="4.64" rx="1.88" ry="1.78" fill="#fff" fill-opacity="0.08"/><ellipse cx="6.40" cy="17.84" rx="2.00" ry="2.17" fill="#fff" fill-opacity="0.09"/><ellipse cx="4.07" cy="16.34" rx="1.05" ry="1.03" fill="#fff" fill-opacity="0.25"/><ellipse cx="4.67" cy="18.73" rx="1.25" ry="0.91" fill="#fff" fill-opacity="0.18"/><ellipse cx="2.63" cy="7.98" rx="1.17" ry="0.97" fill="#fff" fill-opacity="0.06"/></g><g transform="translate(197.86,412.90) scale(1.12,1.0)"><path d="M4.5,0 C5.8,1 7.4,3 8.2,5.5 C8.9,8 9,11 9,13.5 C9,17.5 8.5,20 6.8,21.6 C5.8,22.4 3.2,22.4 2.2,21.6 C0.5,20 0,17.5 0,13.5 C0,11 0.1,8 0.8,5.5 C1.6,3 3.2,1 4.5,0 Z" fill="#fff" fill-opacity="0.29"/><ellipse cx="2.55" cy="12.08" rx="1.54" ry="2.14" fill="#fff" fill-opacity="0.08"/><ellipse cx="2.19" cy="7.92" rx="1.56" ry="2.93" fill="#fff" fill-opacity="0.08"/><ellipse cx="1.87" cy="8.08" rx="1.39" ry="2.03" fill="#fff" fill-opacity="0.26"/><ellipse cx="4.84" cy="19.15" rx="1.44" ry="2.19" fill="#fff" fill-opacity="0.35"/><ellipse cx="4.94" cy="8.42" rx="1.46" ry="2.37" fill="#fff" fill-opacity="0.37"/><ellipse cx="2.97" cy="12.26" rx="1.54" ry="1.64" fill="#fff" fill-opacity="0.35"/><ellipse cx="4.89" cy="12.11" rx="1.45" ry="2.13" fill="#fff" fill-opacity="0.92"/></g><g transform="translate(208.76,412.90) scale(1.12,1.0)"><ellipse cx="4.50" cy="11.20" rx="4.40" ry="10.40" fill="#fff" fill-opacity="0.25"/><ellipse cx="4.22" cy="8.30" rx="3.16" ry="4.96" fill="#fff" fill-opacity="0.82"/><ellipse cx="4.50" cy="14.53" rx="3.95" ry="6.08" fill="#fff" fill-opacity="0.86"/><ellipse cx="4.50" cy="11.50" rx="3.80" ry="4.50" fill="#fff" fill-opacity="0.70"/><ellipse cx="5.72" cy="16.81" rx="2.24" ry="2.48" fill="#fff" fill-opacity="0.60"/><ellipse cx="2.96" cy="6.08" rx="2.18" ry="3.30" fill="#fff" fill-opacity="0.60"/></g><g transform="translate(219.56,412.90) scale(1.12,1.0)"><ellipse cx="4.50" cy="11.20" rx="4.40" ry="10.40" fill="#fff" fill-opacity="0.25"/><ellipse cx="4.62" cy="7.88" rx="3.47" ry="5.33" fill="#fff" fill-opacity="0.82"/><ellipse cx="4.50" cy="14.62" rx="4.09" ry="6.19" fill="#fff" fill-opacity="0.86"/><ellipse cx="4.50" cy="11.50" rx="3.80" ry="4.50" fill="#fff" fill-opacity="0.70"/><ellipse cx="6.24" cy="9.84" rx="1.51" ry="2.62" fill="#fff" fill-opacity="0.60"/><ellipse cx="4.85" cy="7.46" rx="1.75" ry="2.18" fill="#fff" fill-opacity="0.60"/></g><g transform="translate(197.86,439.00) scale(1.12,1.0)"><ellipse cx="4.50" cy="11.20" rx="4.40" ry="10.40" fill="#fff" fill-opacity="0.25"/><ellipse cx="4.49" cy="7.54" rx="3.32" ry="5.57" fill="#fff" fill-opacity="0.82"/><ellipse cx="4.50" cy="14.63" rx="4.02" ry="5.94" fill="#fff" fill-opacity="0.86"/><ellipse cx="4.50" cy="11.50" rx="3.80" ry="4.50" fill="#fff" fill-opacity="0.70"/><ellipse cx="4.98" cy="14.95" rx="2.26" ry="3.08" fill="#fff" fill-opacity="0.60"/><ellipse cx="2.71" cy="15.90" rx="1.65" ry="2.24" fill="#fff" fill-opacity="0.60"/></g><g transform="translate(208.76,439.00) scale(1.12,1.0)"><ellipse cx="4.50" cy="11.20" rx="4.40" ry="10.40" fill="#fff" fill-opacity="0.25"/><ellipse cx="4.27" cy="7.70" rx="3.36" ry="4.93" fill="#fff" fill-opacity="0.82"/><ellipse cx="4.50" cy="14.67" rx="4.06" ry="6.03" fill="#fff" fill-opacity="0.86"/><ellipse cx="4.50" cy="11.50" rx="3.80" ry="4.50" fill="#fff" fill-opacity="0.70"/><ellipse cx="4.01" cy="14.96" rx="1.60" ry="2.01" fill="#fff" fill-opacity="0.60"/></g><g transform="translate(219.56,439.00) scale(1.12,1.0)"><ellipse cx="4.50" cy="11.20" rx="4.40" ry="10.40" fill="#fff" fill-opacity="0.25"/><ellipse cx="4.75" cy="7.61" rx="3.36" ry="5.01" fill="#fff" fill-opacity="0.58"/><ellipse cx="4.50" cy="14.80" rx="3.97" ry="6.40" fill="#fff" fill-opacity="0.86"/><ellipse cx="4.50" cy="11.50" rx="3.80" ry="4.50" fill="#fff" fill-opacity="0.70"/><ellipse cx="5.30" cy="17.10" rx="1.69" ry="2.59" fill="#fff" fill-opacity="0.60"/></g></g>
</g>
<line x1="116.6" y1="252.8" x2="116.6" y2="516" stroke="#c8c8c8" stroke-width="1.3"/>
<line x1="116.6" y1="217.4" x2="116.6" y2="241.6" stroke="#c8c8c8" stroke-width="1"/>
<line x1="162.4" y1="252.8" x2="162.4" y2="516" stroke="#c8c8c8" stroke-width="1.3"/>
<line x1="162.4" y1="217.4" x2="162.4" y2="241.6" stroke="#c8c8c8" stroke-width="1"/>
<line x1="197.0" y1="252.8" x2="197.0" y2="516" stroke="#c8c8c8" stroke-width="1.3"/>
<line x1="197.0" y1="217.4" x2="197.0" y2="241.6" stroke="#c8c8c8" stroke-width="1"/>
<circle cx="116.6" cy="224.6" r="1.9" fill="#c4e0a0" stroke="#90b868" stroke-width="0.5"/>
<text x="311.4" y="186" font-size="12.6" fill="#111" font-weight="bold" text-anchor="start" >C</text>
<line x1="342.4" y1="227.4" x2="369.6" y2="227.4" stroke="#22395a" stroke-width="1.5"/>
<circle cx="356.2" cy="227.4" r="3.0975" fill="#c8123a"/>
<text x="373.8" y="230.8" font-size="9" fill="#c0163e" stroke="#c0163e" stroke-width="0.15" textLength="61.8" lengthAdjust="spacingAndGlyphs">Kg1A-IDH2<tspan dy="-3.8" font-size="6.5">R140Q</tspan></text>
<text x="443.8" y="230.70000000000002" font-size="8.5" fill="#555" font-weight="normal" text-anchor="start" >+</text>
<text x="452.9" y="230.8" font-size="9" fill="#2c5080" font-weight="normal" text-anchor="start" textLength="25" lengthAdjust="spacingAndGlyphs" stroke="#2c5080" stroke-width="0.3">neo-Ts</text>
<line x1="342.4" y1="245.7" x2="369.6" y2="245.7" stroke="#a8a8a8" stroke-width="1.5"/>
<circle cx="356.2" cy="245.7" r="3.045" fill="#fff" stroke="#c0163e" stroke-width="1.2"/>
<text x="373.8" y="249.1" font-size="9" fill="#c0163e" stroke="#c0163e" stroke-width="0.15" textLength="61.8" lengthAdjust="spacingAndGlyphs">Kg1A-IDH2<tspan dy="-3.8" font-size="6.5">R140Q</tspan></text>
<text x="443.8" y="249.0" font-size="8.5" fill="#555" font-weight="normal" text-anchor="start" >+</text>
<text x="452.9" y="249.1" font-size="9" fill="#a0a0a0" font-weight="normal" text-anchor="start" textLength="15.4" lengthAdjust="spacingAndGlyphs" >PBS</text>
<line x1="342.4" y1="263.8" x2="369.6" y2="263.8" stroke="#22395a" stroke-width="1.5"/>
<path d="M353.46999999999997,265.90000000000003 L358.93,265.90000000000003 L356.2,261.28000000000003 Z" fill="#4aab46"/>
<text x="373.8" y="267.2" font-size="9" fill="#4aab46" stroke="#4aab46" stroke-width="0.15" textLength="51.6" lengthAdjust="spacingAndGlyphs">Kg1A-IDH2<tspan dy="-3.8" font-size="6.5">WT</tspan></text>
<text x="443.8" y="267.1" font-size="8.5" fill="#555" font-weight="normal" text-anchor="start" >+</text>
<text x="452.9" y="267.2" font-size="9" fill="#2c5080" font-weight="normal" text-anchor="start" textLength="25" lengthAdjust="spacingAndGlyphs" stroke="#2c5080" stroke-width="0.3">neo-Ts</text>
<line x1="342.4" y1="282.1" x2="369.6" y2="282.1" stroke="#a8a8a8" stroke-width="1.5"/>
<path d="M353.288,284.34000000000003 L359.11199999999997,284.34000000000003 L356.2,279.41200000000003 Z" fill="#fff" stroke="#4aab46" stroke-width="1"/>
<text x="373.8" y="285.5" font-size="9" fill="#4aab46" stroke="#4aab46" stroke-width="0.15" textLength="51.6" lengthAdjust="spacingAndGlyphs">Kg1A-IDH2<tspan dy="-3.8" font-size="6.5">WT</tspan></text>
<text x="443.8" y="285.40000000000003" font-size="8.5" fill="#555" font-weight="normal" text-anchor="start" >+</text>
<text x="452.9" y="285.5" font-size="9" fill="#a0a0a0" font-weight="normal" text-anchor="start" textLength="15.4" lengthAdjust="spacingAndGlyphs" >PBS</text>
<line x1="364.4" y1="313.5" x2="364.4" y2="407.5" stroke="#222" stroke-width="1.2"/>
<line x1="363.8" y1="407" x2="480.5" y2="407" stroke="#222" stroke-width="1.2"/>
<line x1="360.3" y1="407.4" x2="364.4" y2="407.4" stroke="#222" stroke-width="1"/>
<text x="357.3" y="410.8" font-size="10" fill="#2a2a2a" text-anchor="end" textLength="12.6" lengthAdjust="spacingAndGlyphs">10<tspan dy="-4" font-size="6.5">3</tspan></text>
<line x1="360.3" y1="389.2" x2="364.4" y2="389.2" stroke="#222" stroke-width="1"/>
<text x="357.3" y="392.6" font-size="10" fill="#2a2a2a" text-anchor="end" textLength="12.6" lengthAdjust="spacingAndGlyphs">10<tspan dy="-4" font-size="6.5">4</tspan></text>
<line x1="360.3" y1="371.0" x2="364.4" y2="371.0" stroke="#222" stroke-width="1"/>
<text x="357.3" y="374.4" font-size="10" fill="#2a2a2a" text-anchor="end" textLength="12.6" lengthAdjust="spacingAndGlyphs">10<tspan dy="-4" font-size="6.5">5</tspan></text>
<line x1="360.3" y1="352.8" x2="364.4" y2="352.8" stroke="#222" stroke-width="1"/>
<text x="357.3" y="356.2" font-size="10" fill="#2a2a2a" text-anchor="end" textLength="12.6" lengthAdjust="spacingAndGlyphs">10<tspan dy="-4" font-size="6.5">6</tspan></text>
<line x1="360.3" y1="334.6" x2="364.4" y2="334.6" stroke="#222" stroke-width="1"/>
<text x="357.3" y="338.0" font-size="10" fill="#2a2a2a" text-anchor="end" textLength="12.6" lengthAdjust="spacingAndGlyphs">10<tspan dy="-4" font-size="6.5">7</tspan></text>
<line x1="360.3" y1="316.4" x2="364.4" y2="316.4" stroke="#222" stroke-width="1"/>
<text x="357.3" y="319.8" font-size="10" fill="#2a2a2a" text-anchor="end" textLength="12.6" lengthAdjust="spacingAndGlyphs">10<tspan dy="-4" font-size="6.5">8</tspan></text>
<line x1="363.90" y1="407" x2="363.90" y2="410.5" stroke="#222" stroke-width="1"/>
<line x1="375.35" y1="407" x2="375.35" y2="409.5" stroke="#222" stroke-width="1"/>
<line x1="386.80" y1="407" x2="386.80" y2="410.5" stroke="#222" stroke-width="1"/>
<line x1="398.25" y1="407" x2="398.25" y2="409.5" stroke="#222" stroke-width="1"/>
<line x1="409.70" y1="407" x2="409.70" y2="410.5" stroke="#222" stroke-width="1"/>
<line x1="421.15" y1="407" x2="421.15" y2="409.5" stroke="#222" stroke-width="1"/>
<line x1="432.60" y1="407" x2="432.60" y2="410.5" stroke="#222" stroke-width="1"/>
<line x1="444.05" y1="407" x2="444.05" y2="409.5" stroke="#222" stroke-width="1"/>
<line x1="455.50" y1="407" x2="455.50" y2="410.5" stroke="#222" stroke-width="1"/>
<line x1="466.95" y1="407" x2="466.95" y2="409.5" stroke="#222" stroke-width="1"/>
<line x1="478.40" y1="407" x2="478.40" y2="410.5" stroke="#222" stroke-width="1"/>
<text x="363.9" y="420.6" font-size="10" fill="#2a2a2a" font-weight="normal" text-anchor="middle" textLength="5" lengthAdjust="spacingAndGlyphs" >0</text>
<text x="386.8" y="420.6" font-size="10" fill="#2a2a2a" font-weight="normal" text-anchor="middle" textLength="5" lengthAdjust="spacingAndGlyphs" >2</text>
<text x="409.7" y="420.6" font-size="10" fill="#2a2a2a" font-weight="normal" text-anchor="middle" textLength="5" lengthAdjust="spacingAndGlyphs" >4</text>
<text x="432.6" y="420.6" font-size="10" fill="#2a2a2a" font-weight="normal" text-anchor="middle" textLength="5" lengthAdjust="spacingAndGlyphs" >6</text>
<text x="455.5" y="420.6" font-size="10" fill="#2a2a2a" font-weight="normal" text-anchor="middle" textLength="5" lengthAdjust="spacingAndGlyphs" >8</text>
<text x="478.4" y="420.6" font-size="10" fill="#2a2a2a" font-weight="normal" text-anchor="middle" textLength="10.5" lengthAdjust="spacingAndGlyphs" >10</text>
<text x="370.6" y="435.4" font-size="10.5" fill="#2a2a2a" font-weight="normal" text-anchor="start" textLength="103" lengthAdjust="spacingAndGlyphs" >Weeks post tumor injection</text>
<text transform="translate(338.4,360.6) rotate(-90)" font-size="10.5" fill="#2a2a2a" text-anchor="middle" textLength="94" lengthAdjust="spacingAndGlyphs">Avg radiance [p/s/cm<tspan dy="-3.8" font-size="7">2</tspan><tspan dy="3.8">/sr]</tspan></text>
<line x1="421.15" y1="380" x2="421.15" y2="386" stroke="#cc2a4c" stroke-width="0.9"/>
<line x1="419.15" y1="380" x2="423.15" y2="380" stroke="#cc2a4c" stroke-width="0.9"/>
<line x1="419.15" y1="386" x2="423.15" y2="386" stroke="#cc2a4c" stroke-width="0.9"/>
<line x1="432.60" y1="369.5" x2="432.60" y2="379" stroke="#cc2a4c" stroke-width="0.9"/>
<line x1="430.60" y1="369.5" x2="434.60" y2="369.5" stroke="#cc2a4c" stroke-width="0.9"/>
<line x1="430.60" y1="379" x2="434.60" y2="379" stroke="#cc2a4c" stroke-width="0.9"/>
<line x1="444.05" y1="369" x2="444.05" y2="378" stroke="#cc2a4c" stroke-width="0.9"/>
<line x1="442.05" y1="369" x2="446.05" y2="369" stroke="#cc2a4c" stroke-width="0.9"/>
<line x1="442.05" y1="378" x2="446.05" y2="378" stroke="#cc2a4c" stroke-width="0.9"/>
<line x1="455.50" y1="370" x2="455.50" y2="384.5" stroke="#cc2a4c" stroke-width="0.9"/>
<line x1="453.50" y1="370" x2="457.50" y2="370" stroke="#cc2a4c" stroke-width="0.9"/>
<line x1="453.50" y1="384.5" x2="457.50" y2="384.5" stroke="#cc2a4c" stroke-width="0.9"/>
<line x1="466.95" y1="366.5" x2="466.95" y2="385" stroke="#cc2a4c" stroke-width="0.9"/>
<line x1="464.95" y1="366.5" x2="468.95" y2="366.5" stroke="#cc2a4c" stroke-width="0.9"/>
<line x1="464.95" y1="385" x2="468.95" y2="385" stroke="#cc2a4c" stroke-width="0.9"/>
<line x1="478.40" y1="361" x2="478.40" y2="367.5" stroke="#cc2a4c" stroke-width="0.9"/>
<line x1="476.40" y1="361" x2="480.40" y2="361" stroke="#cc2a4c" stroke-width="0.9"/>
<line x1="476.40" y1="367.5" x2="480.40" y2="367.5" stroke="#cc2a4c" stroke-width="0.9"/>
<line x1="398.25" y1="385" x2="398.25" y2="388.5" stroke="#cc2a4c" stroke-width="0.9"/>
<line x1="396.25" y1="385" x2="400.25" y2="385" stroke="#cc2a4c" stroke-width="0.9"/>
<line x1="396.25" y1="388.5" x2="400.25" y2="388.5" stroke="#cc2a4c" stroke-width="0.9"/>
<line x1="386.80" y1="380.5" x2="386.80" y2="386" stroke="#c08040" stroke-width="0.9"/>
<line x1="384.80" y1="380.5" x2="388.80" y2="380.5" stroke="#c08040" stroke-width="0.9"/>
<line x1="384.80" y1="386" x2="388.80" y2="386" stroke="#c08040" stroke-width="0.9"/>
<line x1="409.70" y1="353" x2="409.70" y2="362.3" stroke="#c08040" stroke-width="0.9"/>
<line x1="407.70" y1="353" x2="411.70" y2="353" stroke="#c08040" stroke-width="0.9"/>
<line x1="407.70" y1="362.3" x2="411.70" y2="362.3" stroke="#c08040" stroke-width="0.9"/>
<line x1="444.05" y1="330" x2="444.05" y2="337.7" stroke="#c08040" stroke-width="0.9"/>
<line x1="442.05" y1="330" x2="446.05" y2="330" stroke="#c08040" stroke-width="0.9"/>
<line x1="442.05" y1="337.7" x2="446.05" y2="337.7" stroke="#c08040" stroke-width="0.9"/>
<line x1="444.05" y1="340" x2="444.05" y2="346.5" stroke="#c08040" stroke-width="0.9"/>
<line x1="442.05" y1="340" x2="446.05" y2="340" stroke="#c08040" stroke-width="0.9"/>
<line x1="442.05" y1="346.5" x2="446.05" y2="346.5" stroke="#c08040" stroke-width="0.9"/>
<line x1="421.15" y1="348.5" x2="421.15" y2="355" stroke="#c08040" stroke-width="0.9"/>
<line x1="419.15" y1="348.5" x2="423.15" y2="348.5" stroke="#c08040" stroke-width="0.9"/>
<line x1="419.15" y1="355" x2="423.15" y2="355" stroke="#c08040" stroke-width="0.9"/>
<line x1="398.25" y1="372" x2="398.25" y2="378" stroke="#c08040" stroke-width="0.9"/>
<line x1="396.25" y1="372" x2="400.25" y2="372" stroke="#c08040" stroke-width="0.9"/>
<line x1="396.25" y1="378" x2="400.25" y2="378" stroke="#c08040" stroke-width="0.9"/>
<polyline points="363.90,400.5 375.35,400.5 386.80,385 398.25,376 409.70,358.5 421.15,353 432.60,349.2 444.05,343.1" fill="none" stroke="#a0a0a0" stroke-width="0.8"/>
<polyline points="363.90,400 375.35,398.9 386.80,384.3 398.25,368.9 409.70,358.5 421.15,348.5 432.60,344.3 444.05,333.3 455.50,330.8" fill="none" stroke="#a0a0a0" stroke-width="0.8"/>
<polyline points="363.90,400.6 375.35,400.3 386.80,383 398.25,374.6 409.70,357.7 421.15,343.8 432.60,335.4 444.05,333.8" fill="none" stroke="#1e4a78" stroke-width="1.3"/>
<polyline points="363.90,400 375.35,398.9 386.80,393.1 398.25,386.8 409.70,387.4 421.15,382.3 432.60,374.2 444.05,372.3 455.50,374.6 466.95,370.7 478.40,364.2" fill="none" stroke="#1e4a78" stroke-width="1.3"/>
<circle cx="386.79999999999995" cy="384.3" r="2.9" fill="#fff" stroke="#c0163e" stroke-width="1.2"/>
<circle cx="398.25" cy="368.9" r="2.9" fill="#fff" stroke="#c0163e" stroke-width="1.2"/>
<circle cx="409.7" cy="358.5" r="2.9" fill="#fff" stroke="#c0163e" stroke-width="1.2"/>
<circle cx="421.15" cy="348.5" r="2.9" fill="#fff" stroke="#c0163e" stroke-width="1.2"/>
<circle cx="432.59999999999997" cy="344.3" r="2.9" fill="#fff" stroke="#c0163e" stroke-width="1.2"/>
<circle cx="444.04999999999995" cy="333.3" r="2.9" fill="#fff" stroke="#c0163e" stroke-width="1.2"/>
<circle cx="455.5" cy="330.8" r="2.9" fill="#fff" stroke="#c0163e" stroke-width="1.2"/>
<rect x="384.81999999999994" y="383.2" width="3.9600000000000004" height="3.6" fill="#fff" stroke="#4aab46" stroke-width="1"/>
<rect x="396.27" y="374.2" width="3.9600000000000004" height="3.6" fill="#fff" stroke="#4aab46" stroke-width="1"/>
<rect x="407.71999999999997" y="356.7" width="3.9600000000000004" height="3.6" fill="#fff" stroke="#4aab46" stroke-width="1"/>
<rect x="419.16999999999996" y="351.2" width="3.9600000000000004" height="3.6" fill="#fff" stroke="#4aab46" stroke-width="1"/>
<rect x="430.61999999999995" y="347.4" width="3.9600000000000004" height="3.6" fill="#fff" stroke="#4aab46" stroke-width="1"/>
<rect x="442.06999999999994" y="341.3" width="3.9600000000000004" height="3.6" fill="#fff" stroke="#4aab46" stroke-width="1"/>
<path d="M361.03999999999996,403.8 L366.76,403.8 L363.9,398.96000000000004 Z" fill="#4aab46"/>
<path d="M372.48999999999995,403.5 L378.21,403.5 L375.34999999999997,398.66 Z" fill="#4aab46"/>
<path d="M383.93999999999994,385.2 L389.65999999999997,385.2 L386.79999999999995,380.36 Z" fill="#4aab46"/>
<path d="M395.39,376.8 L401.11,376.8 L398.25,371.96000000000004 Z" fill="#4aab46"/>
<path d="M406.84,359.9 L412.56,359.9 L409.7,355.06 Z" fill="#4aab46"/>
<path d="M418.28999999999996,346.0 L424.01,346.0 L421.15,341.16 Z" fill="#4aab46"/>
<path d="M429.73999999999995,337.59999999999997 L435.46,337.59999999999997 L432.59999999999997,332.76 Z" fill="#4aab46"/>
<path d="M441.18999999999994,336.0 L446.90999999999997,336.0 L444.04999999999995,331.16 Z" fill="#4aab46"/>
<circle cx="363.9" cy="400" r="2.95" fill="#c8123a"/>
<circle cx="375.34999999999997" cy="398.9" r="2.95" fill="#c8123a"/>
<circle cx="386.79999999999995" cy="393.1" r="2.95" fill="#c8123a"/>
<circle cx="398.25" cy="386.8" r="2.95" fill="#c8123a"/>
<circle cx="409.7" cy="387.4" r="2.95" fill="#c8123a"/>
<circle cx="421.15" cy="382.3" r="2.95" fill="#c8123a"/>
<circle cx="432.59999999999997" cy="374.2" r="2.95" fill="#c8123a"/>
<circle cx="444.04999999999995" cy="372.3" r="2.95" fill="#c8123a"/>
<circle cx="455.5" cy="374.6" r="2.95" fill="#c8123a"/>
<circle cx="466.95" cy="370.7" r="2.95" fill="#c8123a"/>
<circle cx="478.4" cy="364.2" r="2.95" fill="#c8123a"/>
<line x1="455" y1="337" x2="455" y2="367.8" stroke="#505050" stroke-width="1.1"/>
<text x="459.2" y="351.5" font-size="8.6" fill="#2a2a2a" textLength="52.3" lengthAdjust="spacingAndGlyphs">** <tspan font-style="italic">P</tspan> = &lt; .001</text>
<rect x="0.5" y="0.5" width="519" height="527" fill="none" stroke="#404040" stroke-width="1"/>
</svg></body></html>
